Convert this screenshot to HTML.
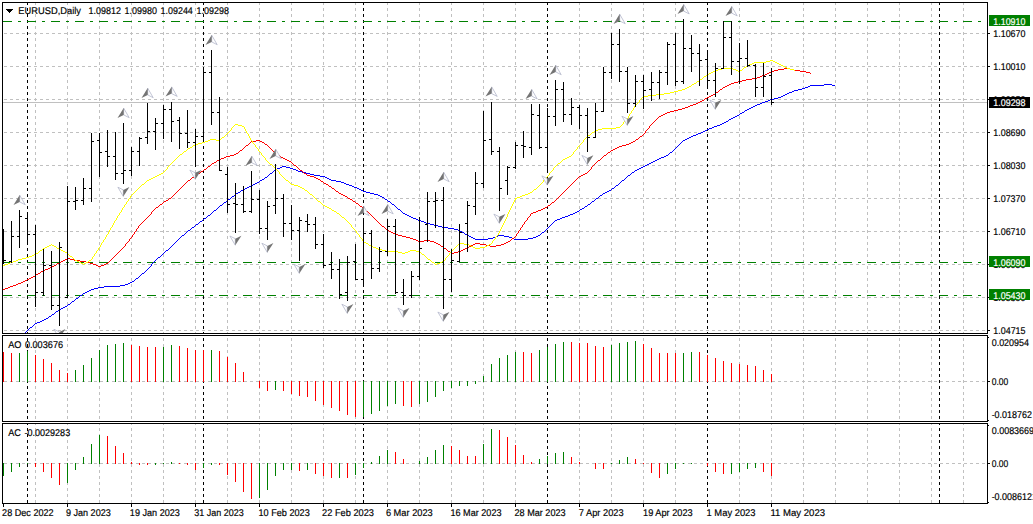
<!DOCTYPE html>
<html><head><meta charset="utf-8"><title>EURUSD,Daily</title>
<style>html,body{margin:0;padding:0;background:#fff;overflow:hidden}svg{display:block}</style></head>
<body>
<svg width="1033" height="524" viewBox="0 0 1033 524" style="display:block">
<defs>
<clipPath id="cm"><rect x="3" y="3" width="984" height="330"/></clipPath>
</defs>
<rect width="1033" height="524" fill="#fff"/>
<g shape-rendering="crispEdges" fill="none">
<line x1="35.5" y1="3" x2="35.5" y2="333" stroke="#c0c0c0" stroke-dasharray="3 3" stroke-dashoffset="1"/>
<line x1="67.5" y1="3" x2="67.5" y2="333" stroke="#c0c0c0" stroke-dasharray="3 3" stroke-dashoffset="1"/>
<line x1="99.5" y1="3" x2="99.5" y2="333" stroke="#c0c0c0" stroke-dasharray="3 3" stroke-dashoffset="1"/>
<line x1="131.5" y1="3" x2="131.5" y2="333" stroke="#c0c0c0" stroke-dasharray="3 3" stroke-dashoffset="1"/>
<line x1="163.5" y1="3" x2="163.5" y2="333" stroke="#c0c0c0" stroke-dasharray="3 3" stroke-dashoffset="1"/>
<line x1="195.5" y1="3" x2="195.5" y2="333" stroke="#c0c0c0" stroke-dasharray="3 3" stroke-dashoffset="1"/>
<line x1="227.5" y1="3" x2="227.5" y2="333" stroke="#c0c0c0" stroke-dasharray="3 3" stroke-dashoffset="1"/>
<line x1="259.5" y1="3" x2="259.5" y2="333" stroke="#c0c0c0" stroke-dasharray="3 3" stroke-dashoffset="1"/>
<line x1="291.5" y1="3" x2="291.5" y2="333" stroke="#c0c0c0" stroke-dasharray="3 3" stroke-dashoffset="1"/>
<line x1="323.5" y1="3" x2="323.5" y2="333" stroke="#c0c0c0" stroke-dasharray="3 3" stroke-dashoffset="1"/>
<line x1="355.5" y1="3" x2="355.5" y2="333" stroke="#c0c0c0" stroke-dasharray="3 3" stroke-dashoffset="1"/>
<line x1="387.5" y1="3" x2="387.5" y2="333" stroke="#c0c0c0" stroke-dasharray="3 3" stroke-dashoffset="1"/>
<line x1="419.5" y1="3" x2="419.5" y2="333" stroke="#c0c0c0" stroke-dasharray="3 3" stroke-dashoffset="1"/>
<line x1="451.5" y1="3" x2="451.5" y2="333" stroke="#c0c0c0" stroke-dasharray="3 3" stroke-dashoffset="1"/>
<line x1="483.5" y1="3" x2="483.5" y2="333" stroke="#c0c0c0" stroke-dasharray="3 3" stroke-dashoffset="1"/>
<line x1="515.5" y1="3" x2="515.5" y2="333" stroke="#c0c0c0" stroke-dasharray="3 3" stroke-dashoffset="1"/>
<line x1="547.5" y1="3" x2="547.5" y2="333" stroke="#c0c0c0" stroke-dasharray="3 3" stroke-dashoffset="1"/>
<line x1="579.5" y1="3" x2="579.5" y2="333" stroke="#c0c0c0" stroke-dasharray="3 3" stroke-dashoffset="1"/>
<line x1="611.5" y1="3" x2="611.5" y2="333" stroke="#c0c0c0" stroke-dasharray="3 3" stroke-dashoffset="1"/>
<line x1="643.5" y1="3" x2="643.5" y2="333" stroke="#c0c0c0" stroke-dasharray="3 3" stroke-dashoffset="1"/>
<line x1="675.5" y1="3" x2="675.5" y2="333" stroke="#c0c0c0" stroke-dasharray="3 3" stroke-dashoffset="1"/>
<line x1="707.5" y1="3" x2="707.5" y2="333" stroke="#c0c0c0" stroke-dasharray="3 3" stroke-dashoffset="1"/>
<line x1="739.5" y1="3" x2="739.5" y2="333" stroke="#c0c0c0" stroke-dasharray="3 3" stroke-dashoffset="1"/>
<line x1="771.5" y1="3" x2="771.5" y2="333" stroke="#c0c0c0" stroke-dasharray="3 3" stroke-dashoffset="1"/>
<line x1="803.5" y1="3" x2="803.5" y2="333" stroke="#c0c0c0" stroke-dasharray="3 3" stroke-dashoffset="1"/>
<line x1="835.5" y1="3" x2="835.5" y2="333" stroke="#c0c0c0" stroke-dasharray="3 3" stroke-dashoffset="1"/>
<line x1="867.5" y1="3" x2="867.5" y2="333" stroke="#c0c0c0" stroke-dasharray="3 3" stroke-dashoffset="1"/>
<line x1="899.5" y1="3" x2="899.5" y2="333" stroke="#c0c0c0" stroke-dasharray="3 3" stroke-dashoffset="1"/>
<line x1="931.5" y1="3" x2="931.5" y2="333" stroke="#c0c0c0" stroke-dasharray="3 3" stroke-dashoffset="1"/>
<line x1="963.5" y1="3" x2="963.5" y2="333" stroke="#c0c0c0" stroke-dasharray="3 3" stroke-dashoffset="1"/>
<line x1="35.5" y1="336" x2="35.5" y2="421" stroke="#c0c0c0" stroke-dasharray="3 3" stroke-dashoffset="4"/>
<line x1="67.5" y1="336" x2="67.5" y2="421" stroke="#c0c0c0" stroke-dasharray="3 3" stroke-dashoffset="4"/>
<line x1="99.5" y1="336" x2="99.5" y2="421" stroke="#c0c0c0" stroke-dasharray="3 3" stroke-dashoffset="4"/>
<line x1="131.5" y1="336" x2="131.5" y2="421" stroke="#c0c0c0" stroke-dasharray="3 3" stroke-dashoffset="4"/>
<line x1="163.5" y1="336" x2="163.5" y2="421" stroke="#c0c0c0" stroke-dasharray="3 3" stroke-dashoffset="4"/>
<line x1="195.5" y1="336" x2="195.5" y2="421" stroke="#c0c0c0" stroke-dasharray="3 3" stroke-dashoffset="4"/>
<line x1="227.5" y1="336" x2="227.5" y2="421" stroke="#c0c0c0" stroke-dasharray="3 3" stroke-dashoffset="4"/>
<line x1="259.5" y1="336" x2="259.5" y2="421" stroke="#c0c0c0" stroke-dasharray="3 3" stroke-dashoffset="4"/>
<line x1="291.5" y1="336" x2="291.5" y2="421" stroke="#c0c0c0" stroke-dasharray="3 3" stroke-dashoffset="4"/>
<line x1="323.5" y1="336" x2="323.5" y2="421" stroke="#c0c0c0" stroke-dasharray="3 3" stroke-dashoffset="4"/>
<line x1="355.5" y1="336" x2="355.5" y2="421" stroke="#c0c0c0" stroke-dasharray="3 3" stroke-dashoffset="4"/>
<line x1="387.5" y1="336" x2="387.5" y2="421" stroke="#c0c0c0" stroke-dasharray="3 3" stroke-dashoffset="4"/>
<line x1="419.5" y1="336" x2="419.5" y2="421" stroke="#c0c0c0" stroke-dasharray="3 3" stroke-dashoffset="4"/>
<line x1="451.5" y1="336" x2="451.5" y2="421" stroke="#c0c0c0" stroke-dasharray="3 3" stroke-dashoffset="4"/>
<line x1="483.5" y1="336" x2="483.5" y2="421" stroke="#c0c0c0" stroke-dasharray="3 3" stroke-dashoffset="4"/>
<line x1="515.5" y1="336" x2="515.5" y2="421" stroke="#c0c0c0" stroke-dasharray="3 3" stroke-dashoffset="4"/>
<line x1="547.5" y1="336" x2="547.5" y2="421" stroke="#c0c0c0" stroke-dasharray="3 3" stroke-dashoffset="4"/>
<line x1="579.5" y1="336" x2="579.5" y2="421" stroke="#c0c0c0" stroke-dasharray="3 3" stroke-dashoffset="4"/>
<line x1="611.5" y1="336" x2="611.5" y2="421" stroke="#c0c0c0" stroke-dasharray="3 3" stroke-dashoffset="4"/>
<line x1="643.5" y1="336" x2="643.5" y2="421" stroke="#c0c0c0" stroke-dasharray="3 3" stroke-dashoffset="4"/>
<line x1="675.5" y1="336" x2="675.5" y2="421" stroke="#c0c0c0" stroke-dasharray="3 3" stroke-dashoffset="4"/>
<line x1="707.5" y1="336" x2="707.5" y2="421" stroke="#c0c0c0" stroke-dasharray="3 3" stroke-dashoffset="4"/>
<line x1="739.5" y1="336" x2="739.5" y2="421" stroke="#c0c0c0" stroke-dasharray="3 3" stroke-dashoffset="4"/>
<line x1="771.5" y1="336" x2="771.5" y2="421" stroke="#c0c0c0" stroke-dasharray="3 3" stroke-dashoffset="4"/>
<line x1="803.5" y1="336" x2="803.5" y2="421" stroke="#c0c0c0" stroke-dasharray="3 3" stroke-dashoffset="4"/>
<line x1="835.5" y1="336" x2="835.5" y2="421" stroke="#c0c0c0" stroke-dasharray="3 3" stroke-dashoffset="4"/>
<line x1="867.5" y1="336" x2="867.5" y2="421" stroke="#c0c0c0" stroke-dasharray="3 3" stroke-dashoffset="4"/>
<line x1="899.5" y1="336" x2="899.5" y2="421" stroke="#c0c0c0" stroke-dasharray="3 3" stroke-dashoffset="4"/>
<line x1="931.5" y1="336" x2="931.5" y2="421" stroke="#c0c0c0" stroke-dasharray="3 3" stroke-dashoffset="4"/>
<line x1="963.5" y1="336" x2="963.5" y2="421" stroke="#c0c0c0" stroke-dasharray="3 3" stroke-dashoffset="4"/>
<line x1="35.5" y1="424" x2="35.5" y2="503" stroke="#c0c0c0" stroke-dasharray="3 3" stroke-dashoffset="2"/>
<line x1="67.5" y1="424" x2="67.5" y2="503" stroke="#c0c0c0" stroke-dasharray="3 3" stroke-dashoffset="2"/>
<line x1="99.5" y1="424" x2="99.5" y2="503" stroke="#c0c0c0" stroke-dasharray="3 3" stroke-dashoffset="2"/>
<line x1="131.5" y1="424" x2="131.5" y2="503" stroke="#c0c0c0" stroke-dasharray="3 3" stroke-dashoffset="2"/>
<line x1="163.5" y1="424" x2="163.5" y2="503" stroke="#c0c0c0" stroke-dasharray="3 3" stroke-dashoffset="2"/>
<line x1="195.5" y1="424" x2="195.5" y2="503" stroke="#c0c0c0" stroke-dasharray="3 3" stroke-dashoffset="2"/>
<line x1="227.5" y1="424" x2="227.5" y2="503" stroke="#c0c0c0" stroke-dasharray="3 3" stroke-dashoffset="2"/>
<line x1="259.5" y1="424" x2="259.5" y2="503" stroke="#c0c0c0" stroke-dasharray="3 3" stroke-dashoffset="2"/>
<line x1="291.5" y1="424" x2="291.5" y2="503" stroke="#c0c0c0" stroke-dasharray="3 3" stroke-dashoffset="2"/>
<line x1="323.5" y1="424" x2="323.5" y2="503" stroke="#c0c0c0" stroke-dasharray="3 3" stroke-dashoffset="2"/>
<line x1="355.5" y1="424" x2="355.5" y2="503" stroke="#c0c0c0" stroke-dasharray="3 3" stroke-dashoffset="2"/>
<line x1="387.5" y1="424" x2="387.5" y2="503" stroke="#c0c0c0" stroke-dasharray="3 3" stroke-dashoffset="2"/>
<line x1="419.5" y1="424" x2="419.5" y2="503" stroke="#c0c0c0" stroke-dasharray="3 3" stroke-dashoffset="2"/>
<line x1="451.5" y1="424" x2="451.5" y2="503" stroke="#c0c0c0" stroke-dasharray="3 3" stroke-dashoffset="2"/>
<line x1="483.5" y1="424" x2="483.5" y2="503" stroke="#c0c0c0" stroke-dasharray="3 3" stroke-dashoffset="2"/>
<line x1="515.5" y1="424" x2="515.5" y2="503" stroke="#c0c0c0" stroke-dasharray="3 3" stroke-dashoffset="2"/>
<line x1="547.5" y1="424" x2="547.5" y2="503" stroke="#c0c0c0" stroke-dasharray="3 3" stroke-dashoffset="2"/>
<line x1="579.5" y1="424" x2="579.5" y2="503" stroke="#c0c0c0" stroke-dasharray="3 3" stroke-dashoffset="2"/>
<line x1="611.5" y1="424" x2="611.5" y2="503" stroke="#c0c0c0" stroke-dasharray="3 3" stroke-dashoffset="2"/>
<line x1="643.5" y1="424" x2="643.5" y2="503" stroke="#c0c0c0" stroke-dasharray="3 3" stroke-dashoffset="2"/>
<line x1="675.5" y1="424" x2="675.5" y2="503" stroke="#c0c0c0" stroke-dasharray="3 3" stroke-dashoffset="2"/>
<line x1="707.5" y1="424" x2="707.5" y2="503" stroke="#c0c0c0" stroke-dasharray="3 3" stroke-dashoffset="2"/>
<line x1="739.5" y1="424" x2="739.5" y2="503" stroke="#c0c0c0" stroke-dasharray="3 3" stroke-dashoffset="2"/>
<line x1="771.5" y1="424" x2="771.5" y2="503" stroke="#c0c0c0" stroke-dasharray="3 3" stroke-dashoffset="2"/>
<line x1="803.5" y1="424" x2="803.5" y2="503" stroke="#c0c0c0" stroke-dasharray="3 3" stroke-dashoffset="2"/>
<line x1="835.5" y1="424" x2="835.5" y2="503" stroke="#c0c0c0" stroke-dasharray="3 3" stroke-dashoffset="2"/>
<line x1="867.5" y1="424" x2="867.5" y2="503" stroke="#c0c0c0" stroke-dasharray="3 3" stroke-dashoffset="2"/>
<line x1="899.5" y1="424" x2="899.5" y2="503" stroke="#c0c0c0" stroke-dasharray="3 3" stroke-dashoffset="2"/>
<line x1="931.5" y1="424" x2="931.5" y2="503" stroke="#c0c0c0" stroke-dasharray="3 3" stroke-dashoffset="2"/>
<line x1="963.5" y1="424" x2="963.5" y2="503" stroke="#c0c0c0" stroke-dasharray="3 3" stroke-dashoffset="2"/>
<line x1="3" y1="33.5" x2="987" y2="33.5" stroke="#c0c0c0" stroke-dasharray="3 3" stroke-dashoffset="5"/>
<line x1="3" y1="66.5" x2="987" y2="66.5" stroke="#c0c0c0" stroke-dasharray="3 3" stroke-dashoffset="5"/>
<line x1="3" y1="99.5" x2="987" y2="99.5" stroke="#c0c0c0" stroke-dasharray="3 3" stroke-dashoffset="5"/>
<line x1="3" y1="132.5" x2="987" y2="132.5" stroke="#c0c0c0" stroke-dasharray="3 3" stroke-dashoffset="5"/>
<line x1="3" y1="165.5" x2="987" y2="165.5" stroke="#c0c0c0" stroke-dasharray="3 3" stroke-dashoffset="5"/>
<line x1="3" y1="198.5" x2="987" y2="198.5" stroke="#c0c0c0" stroke-dasharray="3 3" stroke-dashoffset="5"/>
<line x1="3" y1="231.5" x2="987" y2="231.5" stroke="#c0c0c0" stroke-dasharray="3 3" stroke-dashoffset="5"/>
<line x1="3" y1="264.5" x2="987" y2="264.5" stroke="#c0c0c0" stroke-dasharray="3 3" stroke-dashoffset="5"/>
<line x1="3" y1="297.5" x2="987" y2="297.5" stroke="#c0c0c0" stroke-dasharray="3 3" stroke-dashoffset="5"/>
<line x1="3" y1="330.5" x2="987" y2="330.5" stroke="#c0c0c0" stroke-dasharray="3 3" stroke-dashoffset="5"/>
<line x1="3" y1="381.5" x2="987" y2="381.5" stroke="#c0c0c0" stroke-dasharray="3 3" stroke-dashoffset="5"/>
<line x1="3" y1="463.5" x2="987" y2="463.5" stroke="#c0c0c0" stroke-dasharray="3 3" stroke-dashoffset="5"/>
<line x1="3" y1="102.5" x2="987" y2="102.5" stroke="#c0c0c0"/>
<line x1="27.5" y1="3" x2="27.5" y2="333" stroke="#000" stroke-dasharray="3 3" stroke-dashoffset="1"/>
<line x1="27.5" y1="336" x2="27.5" y2="421" stroke="#000" stroke-dasharray="3 3" stroke-dashoffset="4"/>
<line x1="27.5" y1="424" x2="27.5" y2="503" stroke="#000" stroke-dasharray="3 3" stroke-dashoffset="2"/>
<line x1="203.5" y1="3" x2="203.5" y2="333" stroke="#000" stroke-dasharray="3 3" stroke-dashoffset="1"/>
<line x1="203.5" y1="336" x2="203.5" y2="421" stroke="#000" stroke-dasharray="3 3" stroke-dashoffset="4"/>
<line x1="203.5" y1="424" x2="203.5" y2="503" stroke="#000" stroke-dasharray="3 3" stroke-dashoffset="2"/>
<line x1="363.5" y1="3" x2="363.5" y2="333" stroke="#000" stroke-dasharray="3 3" stroke-dashoffset="1"/>
<line x1="363.5" y1="336" x2="363.5" y2="421" stroke="#000" stroke-dasharray="3 3" stroke-dashoffset="4"/>
<line x1="363.5" y1="424" x2="363.5" y2="503" stroke="#000" stroke-dasharray="3 3" stroke-dashoffset="2"/>
<line x1="547.5" y1="3" x2="547.5" y2="333" stroke="#000" stroke-dasharray="3 3" stroke-dashoffset="1"/>
<line x1="547.5" y1="336" x2="547.5" y2="421" stroke="#000" stroke-dasharray="3 3" stroke-dashoffset="4"/>
<line x1="547.5" y1="424" x2="547.5" y2="503" stroke="#000" stroke-dasharray="3 3" stroke-dashoffset="2"/>
<line x1="707.5" y1="3" x2="707.5" y2="333" stroke="#000" stroke-dasharray="3 3" stroke-dashoffset="1"/>
<line x1="707.5" y1="336" x2="707.5" y2="421" stroke="#000" stroke-dasharray="3 3" stroke-dashoffset="4"/>
<line x1="707.5" y1="424" x2="707.5" y2="503" stroke="#000" stroke-dasharray="3 3" stroke-dashoffset="2"/>
<line x1="939.5" y1="3" x2="939.5" y2="333" stroke="#000" stroke-dasharray="3 3" stroke-dashoffset="1"/>
<line x1="939.5" y1="336" x2="939.5" y2="421" stroke="#000" stroke-dasharray="3 3" stroke-dashoffset="4"/>
<line x1="939.5" y1="424" x2="939.5" y2="503" stroke="#000" stroke-dasharray="3 3" stroke-dashoffset="2"/>
</g>
<g shape-rendering="crispEdges" fill="none">
<line x1="3" y1="21.5" x2="987" y2="21.5" stroke="#008000" stroke-dasharray="9 6 3 6" stroke-dashoffset="0"/>
<line x1="3" y1="262.5" x2="987" y2="262.5" stroke="#008000" stroke-dasharray="9 6 3 6" stroke-dashoffset="0"/>
<line x1="3" y1="295.5" x2="987" y2="295.5" stroke="#008000" stroke-dasharray="9 6 3 6" stroke-dashoffset="0"/>
</g>
<path d="M25.5 332v1M26.5 331v1M27.5 330v1M28.5 329v1M29.5 328v1M30.5 327v1M31.5 327v1M32.5 326v1M33.5 325v1M34.5 324v1M35.5 323v1M36.5 323v1M37.5 322v1M38.5 322v1M39.5 322v1M40.5 321v1M41.5 321v1M42.5 320v1M43.5 320v1M44.5 319v1M45.5 319v1M46.5 318v1M47.5 318v1M48.5 317v1M49.5 316v1M50.5 316v1M51.5 315v1M52.5 314v1M53.5 314v1M54.5 313v1M55.5 312v1M56.5 311v1M57.5 311v1M58.5 310v1M59.5 309v1M60.5 309v1M61.5 308v1M62.5 308v1M63.5 307v1M64.5 307v1M65.5 306v1M66.5 306v1M67.5 305v1M68.5 304v1M69.5 304v1M70.5 303v1M71.5 302v1M72.5 301v1M73.5 301v1M74.5 300v1M75.5 299v1M76.5 298v1M77.5 298v1M78.5 297v1M79.5 296v1M80.5 295v1M81.5 295v1M82.5 294v1M83.5 293v1M84.5 293v1M85.5 292v1M86.5 292v1M87.5 291v1M88.5 291v1M89.5 290v1M90.5 290v1M91.5 289v1M92.5 289v1M93.5 289v1M94.5 288v1M95.5 288v1M96.5 288v1M97.5 288v1M98.5 287v1M99.5 287v1M100.5 287v1M101.5 287v1M102.5 287v1M103.5 287v1M104.5 286v1M105.5 286v1M106.5 286v1M107.5 286v1M108.5 286v1M109.5 286v1M110.5 286v1M111.5 286v1M112.5 286v1M113.5 286v1M114.5 286v1M115.5 286v1M116.5 286v1M117.5 286v1M118.5 286v1M119.5 286v1M120.5 285v1M121.5 285v1M122.5 285v1M123.5 285v1M124.5 285v1M125.5 284v1M126.5 284v1M127.5 284v1M128.5 283v1M129.5 283v1M130.5 282v1M131.5 282v1M132.5 281v1M133.5 281v1M134.5 280v1M135.5 279v1M136.5 278v1M137.5 278v1M138.5 277v1M139.5 276v1M140.5 275v1M141.5 274v1M142.5 273v1M143.5 273v1M144.5 272v1M145.5 271v1M146.5 270v1M147.5 269v1M148.5 268v1M149.5 267v1M150.5 266v1M151.5 264v2M152.5 263v1M153.5 262v1M154.5 261v1M155.5 260v1M156.5 259v1M157.5 258v1M158.5 257v1M159.5 257v1M160.5 256v1M161.5 255v1M162.5 254v1M163.5 253v1M164.5 252v1M165.5 251v1M166.5 250v1M167.5 250v1M168.5 249v1M169.5 248v1M170.5 247v1M171.5 246v1M172.5 245v1M173.5 244v1M174.5 243v1M175.5 242v1M176.5 241v1M177.5 240v1M178.5 239v1M179.5 238v1M180.5 237v1M181.5 236v1M182.5 235v1M183.5 235v1M184.5 234v1M185.5 233v1M186.5 232v1M187.5 231v1M188.5 230v1M189.5 230v1M190.5 229v1M191.5 228v1M192.5 227v1M193.5 227v1M194.5 226v1M195.5 225v1M196.5 224v1M197.5 224v1M198.5 223v1M199.5 222v1M200.5 221v1M201.5 221v1M202.5 220v1M203.5 219v1M204.5 218v1M205.5 218v1M206.5 217v1M207.5 216v1M208.5 215v1M209.5 215v1M210.5 214v1M211.5 213v1M212.5 212v1M213.5 211v1M214.5 210v1M215.5 210v1M216.5 209v1M217.5 208v1M218.5 207v1M219.5 206v1M220.5 205v1M221.5 205v1M222.5 204v1M223.5 203v1M224.5 202v1M225.5 202v1M226.5 201v1M227.5 200v1M228.5 199v1M229.5 199v1M230.5 198v1M231.5 197v1M232.5 196v1M233.5 196v1M234.5 195v1M235.5 194v1M236.5 193v1M237.5 193v1M238.5 192v1M239.5 192v1M240.5 191v1M241.5 190v1M242.5 190v1M243.5 189v1M244.5 189v1M245.5 188v1M246.5 188v1M247.5 187v1M248.5 187v1M249.5 186v1M250.5 186v1M251.5 185v1M252.5 185v1M253.5 184v1M254.5 184v1M255.5 183v1M256.5 183v1M257.5 182v1M258.5 182v1M259.5 181v1M260.5 180v1M261.5 180v1M262.5 179v1M263.5 179v1M264.5 178v1M265.5 177v1M266.5 177v1M267.5 176v1M268.5 175v1M269.5 174v1M270.5 173v1M271.5 173v1M272.5 172v1M273.5 171v1M274.5 170v1M275.5 169v1M276.5 169v1M277.5 168v1M278.5 168v1M279.5 168v1M280.5 167v1M281.5 167v1M282.5 166v1M283.5 166v1M284.5 166v1M285.5 166v1M286.5 167v1M287.5 167v1M288.5 167v1M289.5 167v1M290.5 168v1M291.5 168v1M292.5 168v1M293.5 169v1M294.5 169v1M295.5 169v1M296.5 170v1M297.5 170v1M298.5 171v1M299.5 171v1M300.5 171v1M301.5 171v1M302.5 172v1M303.5 172v1M304.5 172v1M305.5 172v1M306.5 173v1M307.5 173v1M308.5 173v1M309.5 173v1M310.5 174v1M311.5 174v1M312.5 174v1M313.5 174v1M314.5 175v1M315.5 175v1M316.5 175v1M317.5 175v1M318.5 175v1M319.5 175v1M320.5 176v1M321.5 176v1M322.5 176v1M323.5 176v1M324.5 176v1M325.5 177v1M326.5 177v1M327.5 178v1M328.5 178v1M329.5 179v1M330.5 179v1M331.5 180v1M332.5 180v1M333.5 180v1M334.5 180v1M335.5 180v1M336.5 181v1M337.5 181v1M338.5 181v1M339.5 181v1M340.5 181v1M341.5 182v1M342.5 182v1M343.5 182v1M344.5 183v1M345.5 183v1M346.5 184v1M347.5 184v1M348.5 184v1M349.5 185v1M350.5 185v1M351.5 185v1M352.5 186v1M353.5 186v1M354.5 187v1M355.5 187v1M356.5 187v1M357.5 188v1M358.5 188v1M359.5 189v1M360.5 189v1M361.5 190v1M362.5 190v1M363.5 191v1M364.5 191v1M365.5 191v1M366.5 192v1M367.5 192v1M368.5 192v1M369.5 192v1M370.5 193v1M371.5 193v1M372.5 193v1M373.5 193v1M374.5 194v1M375.5 194v1M376.5 194v1M377.5 194v1M378.5 195v1M379.5 195v1M380.5 196v1M381.5 196v1M382.5 197v1M383.5 197v1M384.5 198v1M385.5 199v1M386.5 199v1M387.5 200v1M388.5 201v1M389.5 201v1M390.5 202v1M391.5 203v1M392.5 204v1M393.5 204v1M394.5 205v1M395.5 206v1M396.5 207v1M397.5 208v1M398.5 209v1M399.5 209v1M400.5 210v1M401.5 211v1M402.5 212v1M403.5 213v1M404.5 213v1M405.5 214v1M406.5 214v1M407.5 215v1M408.5 215v1M409.5 216v1M410.5 216v1M411.5 217v1M412.5 217v1M413.5 218v1M414.5 218v1M415.5 218v1M416.5 219v1M417.5 219v1M418.5 220v1M419.5 220v1M420.5 220v1M421.5 221v1M422.5 221v1M423.5 221v1M424.5 222v1M425.5 222v1M426.5 223v1M427.5 223v1M428.5 223v1M429.5 223v1M430.5 224v1M431.5 224v1M432.5 224v1M433.5 224v1M434.5 225v1M435.5 225v1M436.5 225v1M437.5 225v1M438.5 226v1M439.5 226v1M440.5 226v1M441.5 226v1M442.5 227v1M443.5 227v1M444.5 227v1M445.5 227v1M446.5 227v1M447.5 227v1M448.5 228v1M449.5 228v1M450.5 228v1M451.5 228v1M452.5 228v1M453.5 228v1M454.5 229v1M455.5 229v1M456.5 229v1M457.5 229v1M458.5 230v1M459.5 230v1M460.5 231v1M461.5 231v1M462.5 232v1M463.5 232v1M464.5 233v1M465.5 234v1M466.5 234v1M467.5 235v1M468.5 235v1M469.5 236v1M470.5 236v1M471.5 237v1M472.5 237v1M473.5 238v1M474.5 238v1M475.5 239v1M476.5 239v1M477.5 239v1M478.5 239v1M479.5 239v1M480.5 239v1M481.5 239v1M482.5 239v1M483.5 239v1M484.5 239v1M485.5 239v1M486.5 239v1M487.5 239v1M488.5 238v1M489.5 238v1M490.5 238v1M491.5 238v1M492.5 238v1M493.5 237v1M494.5 237v1M495.5 237v1M496.5 236v1M497.5 236v1M498.5 235v1M499.5 235v1M500.5 235v1M501.5 235v1M502.5 235v1M503.5 235v1M504.5 236v1M505.5 236v1M506.5 236v1M507.5 236v1M508.5 236v1M509.5 237v1M510.5 237v1M511.5 237v1M512.5 238v1M513.5 238v1M514.5 239v1M515.5 239v1M516.5 239v1M517.5 239v1M518.5 239v1M519.5 239v1M520.5 239v1M521.5 239v1M522.5 239v1M523.5 239v1M524.5 239v1M525.5 239v1M526.5 239v1M527.5 239v1M528.5 238v1M529.5 238v1M530.5 238v1M531.5 238v1M532.5 238v1M533.5 237v1M534.5 237v1M535.5 237v1M536.5 236v1M537.5 236v1M538.5 235v1M539.5 235v1M540.5 234v1M541.5 233v1M542.5 232v1M543.5 232v1M544.5 231v1M545.5 230v1M546.5 229v1M547.5 228v1M548.5 227v1M549.5 226v1M550.5 225v1M551.5 224v1M552.5 223v1M553.5 222v1M554.5 221v1M555.5 220v1M556.5 220v1M557.5 219v1M558.5 219v1M559.5 219v1M560.5 218v1M561.5 218v1M562.5 217v1M563.5 217v1M564.5 217v1M565.5 216v1M566.5 216v1M567.5 216v1M568.5 215v1M569.5 215v1M570.5 214v1M571.5 214v1M572.5 214v1M573.5 213v1M574.5 213v1M575.5 212v1M576.5 212v1M577.5 211v1M578.5 211v1M579.5 210v1M580.5 209v1M581.5 209v1M582.5 208v1M583.5 208v1M584.5 207v1M585.5 206v1M586.5 206v1M587.5 205v1M588.5 204v1M589.5 204v1M590.5 203v1M591.5 202v1M592.5 201v1M593.5 201v1M594.5 200v1M595.5 199v1M596.5 198v1M597.5 198v1M598.5 197v1M599.5 196v1M600.5 195v1M601.5 195v1M602.5 194v1M603.5 193v1M604.5 193v1M605.5 192v1M606.5 192v1M607.5 191v1M608.5 191v1M609.5 190v1M610.5 190v1M611.5 189v1M612.5 188v1M613.5 188v1M614.5 187v1M615.5 186v1M616.5 185v1M617.5 185v1M618.5 184v1M619.5 183v1M620.5 182v1M621.5 181v1M622.5 180v1M623.5 180v1M624.5 179v1M625.5 178v1M626.5 177v1M627.5 176v1M628.5 175v1M629.5 175v1M630.5 174v1M631.5 173v1M632.5 172v1M633.5 172v1M634.5 171v1M635.5 170v1M636.5 170v1M637.5 169v1M638.5 169v1M639.5 168v1M640.5 168v1M641.5 167v1M642.5 167v1M643.5 166v1M644.5 166v1M645.5 165v1M646.5 165v1M647.5 164v1M648.5 164v1M649.5 163v1M650.5 163v1M651.5 162v1M652.5 162v1M653.5 161v1M654.5 161v1M655.5 160v1M656.5 160v1M657.5 159v1M658.5 159v1M659.5 158v1M660.5 158v1M661.5 157v1M662.5 157v1M663.5 157v1M664.5 156v1M665.5 156v1M666.5 155v1M667.5 155v1M668.5 154v1M669.5 153v1M670.5 152v1M671.5 152v1M672.5 151v1M673.5 150v1M674.5 149v1M675.5 148v1M676.5 147v1M677.5 146v1M678.5 145v1M679.5 144v1M680.5 143v1M681.5 142v1M682.5 141v1M683.5 140v1M684.5 140v1M685.5 139v1M686.5 139v1M687.5 138v1M688.5 138v1M689.5 137v1M690.5 137v1M691.5 136v1M692.5 136v1M693.5 135v1M694.5 135v1M695.5 135v1M696.5 134v1M697.5 134v1M698.5 133v1M699.5 133v1M700.5 133v1M701.5 132v1M702.5 132v1M703.5 131v1M704.5 131v1M705.5 130v1M706.5 130v1M707.5 129v1M708.5 129v1M709.5 128v1M710.5 128v1M711.5 128v1M712.5 127v1M713.5 127v1M714.5 126v1M715.5 126v1M716.5 126v1M717.5 125v1M718.5 125v1M719.5 125v1M720.5 124v1M721.5 124v1M722.5 123v1M723.5 123v1M724.5 122v1M725.5 122v1M726.5 121v1M727.5 121v1M728.5 120v1M729.5 119v1M730.5 119v1M731.5 118v1M732.5 118v1M733.5 117v1M734.5 117v1M735.5 116v1M736.5 116v1M737.5 115v1M738.5 115v1M739.5 114v1M740.5 113v1M741.5 113v1M742.5 112v1M743.5 112v1M744.5 111v1M745.5 110v1M746.5 110v1M747.5 109v1M748.5 109v1M749.5 108v1M750.5 108v1M751.5 107v1M752.5 107v1M753.5 106v1M754.5 106v1M755.5 105v1M756.5 105v1M757.5 104v1M758.5 104v1M759.5 104v1M760.5 103v1M761.5 103v1M762.5 102v1M763.5 102v1M764.5 102v1M765.5 101v1M766.5 101v1M767.5 101v1M768.5 100v1M769.5 100v1M770.5 99v1M771.5 99v1M772.5 99v1M773.5 99v1M774.5 98v1M775.5 98v1M776.5 98v1M777.5 98v1M778.5 97v1M779.5 97v1M780.5 97v1M781.5 96v1M782.5 96v1M783.5 95v1M784.5 95v1M785.5 94v1M786.5 94v1M787.5 93v1M788.5 93v1M789.5 92v1M790.5 92v1M791.5 92v1M792.5 91v1M793.5 91v1M794.5 90v1M795.5 90v1M796.5 90v1M797.5 90v1M798.5 89v1M799.5 89v1M800.5 89v1M801.5 89v1M802.5 88v1M803.5 88v1M804.5 88v1M805.5 87v1M806.5 87v1M807.5 87v1M808.5 86v1M809.5 86v1M810.5 85v1M811.5 85v1M812.5 85v1M813.5 85v1M814.5 85v1M815.5 85v1M816.5 85v1M817.5 85v1M818.5 85v1M819.5 85v1M820.5 85v1M821.5 85v1M822.5 85v1M823.5 85v1M824.5 84v1M825.5 84v1M826.5 84v1M827.5 84v1M828.5 84v1M829.5 84v1M830.5 84v1M831.5 84v1M832.5 85v1M833.5 85v1M834.5 85v1" fill="none" stroke="#0000ff" stroke-width="1" shape-rendering="crispEdges"/>
<path d="M3.5 289v1M4.5 289v1M5.5 288v1M6.5 288v1M7.5 288v1M8.5 287v1M9.5 287v1M10.5 286v1M11.5 286v1M12.5 286v1M13.5 285v1M14.5 285v1M15.5 285v1M16.5 284v1M17.5 284v1M18.5 283v1M19.5 283v1M20.5 283v1M21.5 282v1M22.5 282v1M23.5 281v1M24.5 281v1M25.5 280v1M26.5 280v1M27.5 279v1M28.5 279v1M29.5 278v1M30.5 278v1M31.5 277v1M32.5 277v1M33.5 276v1M34.5 276v1M35.5 275v1M36.5 274v1M37.5 274v1M38.5 273v1M39.5 273v1M40.5 272v1M41.5 271v1M42.5 271v1M43.5 270v1M44.5 270v1M45.5 269v1M46.5 269v1M47.5 269v1M48.5 268v1M49.5 268v1M50.5 267v1M51.5 267v1M52.5 266v1M53.5 266v1M54.5 265v1M55.5 265v1M56.5 264v1M57.5 263v1M58.5 263v1M59.5 262v1M60.5 262v1M61.5 261v1M62.5 261v1M63.5 260v1M64.5 260v1M65.5 259v1M66.5 259v1M67.5 258v1M68.5 258v1M69.5 258v1M70.5 259v1M71.5 259v1M72.5 259v1M73.5 259v1M74.5 260v1M75.5 260v1M76.5 260v1M77.5 260v1M78.5 260v1M79.5 260v1M80.5 261v1M81.5 261v1M82.5 261v1M83.5 261v1M84.5 261v1M85.5 261v1M86.5 262v1M87.5 262v1M88.5 262v1M89.5 262v1M90.5 263v1M91.5 263v1M92.5 263v1M93.5 264v1M94.5 264v1M95.5 264v1M96.5 265v1M97.5 265v1M98.5 266v1M99.5 266v1M100.5 266v1M101.5 265v1M102.5 265v1M103.5 265v1M104.5 264v1M105.5 264v1M106.5 263v1M107.5 263v1M108.5 262v1M109.5 261v1M110.5 260v1M111.5 259v1M112.5 258v1M113.5 257v1M114.5 256v1M115.5 255v1M116.5 254v1M117.5 253v1M118.5 252v1M119.5 251v1M120.5 250v1M121.5 249v1M122.5 248v1M123.5 247v1M124.5 246v1M125.5 244v2M126.5 243v1M127.5 242v1M128.5 241v1M129.5 239v2M130.5 238v1M131.5 237v1M132.5 235v2M133.5 234v1M134.5 232v2M135.5 231v1M136.5 229v2M137.5 228v1M138.5 226v2M139.5 225v1M140.5 224v1M141.5 223v1M142.5 222v1M143.5 221v1M144.5 220v1M145.5 219v1M146.5 218v1M147.5 217v1M148.5 216v1M149.5 215v1M150.5 214v1M151.5 212v2M152.5 211v1M153.5 210v1M154.5 209v1M155.5 208v1M156.5 207v1M157.5 207v1M158.5 206v1M159.5 205v1M160.5 204v1M161.5 204v1M162.5 203v1M163.5 202v1M164.5 201v1M165.5 201v1M166.5 200v1M167.5 200v1M168.5 199v1M169.5 198v1M170.5 198v1M171.5 197v1M172.5 196v1M173.5 195v1M174.5 194v1M175.5 193v1M176.5 192v1M177.5 191v1M178.5 190v1M179.5 189v1M180.5 188v1M181.5 187v1M182.5 186v1M183.5 185v1M184.5 184v1M185.5 183v1M186.5 182v1M187.5 181v1M188.5 180v1M189.5 180v1M190.5 179v1M191.5 178v1M192.5 177v1M193.5 177v1M194.5 176v1M195.5 175v1M196.5 174v1M197.5 174v1M198.5 173v1M199.5 173v1M200.5 172v1M201.5 171v1M202.5 171v1M203.5 170v1M204.5 169v1M205.5 169v1M206.5 168v1M207.5 167v1M208.5 166v1M209.5 166v1M210.5 165v1M211.5 164v1M212.5 163v1M213.5 163v1M214.5 162v1M215.5 162v1M216.5 161v1M217.5 160v1M218.5 160v1M219.5 159v1M220.5 159v1M221.5 158v1M222.5 158v1M223.5 158v1M224.5 157v1M225.5 157v1M226.5 156v1M227.5 156v1M228.5 156v1M229.5 156v1M230.5 155v1M231.5 155v1M232.5 155v1M233.5 155v1M234.5 154v1M235.5 154v1M236.5 153v1M237.5 153v1M238.5 152v1M239.5 151v1M240.5 150v1M241.5 150v1M242.5 149v1M243.5 148v1M244.5 147v1M245.5 146v1M246.5 145v1M247.5 145v1M248.5 144v1M249.5 143v1M250.5 142v1M251.5 141v1M252.5 141v1M253.5 141v1M254.5 141v1M255.5 141v1M256.5 140v1M257.5 140v1M258.5 140v1M259.5 140v1M260.5 141v1M261.5 141v1M262.5 142v1M263.5 142v1M264.5 143v1M265.5 144v1M266.5 144v1M267.5 145v1M268.5 146v1M269.5 147v1M270.5 148v1M271.5 149v1M272.5 150v1M273.5 151v1M274.5 152v1M275.5 153v1M276.5 154v1M277.5 154v1M278.5 155v1M279.5 155v1M280.5 156v1M281.5 157v1M282.5 157v1M283.5 158v1M284.5 158v1M285.5 159v1M286.5 159v1M287.5 160v1M288.5 160v1M289.5 161v1M290.5 161v1M291.5 162v1M292.5 163v1M293.5 164v1M294.5 165v1M295.5 165v1M296.5 166v1M297.5 167v1M298.5 168v1M299.5 169v1M300.5 170v1M301.5 170v1M302.5 171v1M303.5 172v1M304.5 173v1M305.5 173v1M306.5 174v1M307.5 175v1M308.5 175v1M309.5 175v1M310.5 176v1M311.5 176v1M312.5 176v1M313.5 176v1M314.5 177v1M315.5 177v1M316.5 178v1M317.5 178v1M318.5 179v1M319.5 179v1M320.5 180v1M321.5 181v1M322.5 181v1M323.5 182v1M324.5 183v1M325.5 183v1M326.5 184v1M327.5 184v1M328.5 185v1M329.5 186v1M330.5 186v1M331.5 187v1M332.5 188v1M333.5 188v1M334.5 189v1M335.5 190v1M336.5 191v1M337.5 191v1M338.5 192v1M339.5 193v1M340.5 193v1M341.5 194v1M342.5 194v1M343.5 195v1M344.5 195v1M345.5 196v1M346.5 196v1M347.5 197v1M348.5 198v1M349.5 198v1M350.5 199v1M351.5 199v1M352.5 200v1M353.5 201v1M354.5 201v1M355.5 202v1M356.5 203v1M357.5 203v1M358.5 204v1M359.5 205v1M360.5 206v1M361.5 206v1M362.5 207v1M363.5 208v1M364.5 209v1M365.5 210v1M366.5 211v1M367.5 211v1M368.5 212v1M369.5 213v1M370.5 214v1M371.5 215v1M372.5 216v1M373.5 217v1M374.5 218v1M375.5 219v1M376.5 220v1M377.5 221v1M378.5 222v1M379.5 223v1M380.5 224v1M381.5 225v1M382.5 226v1M383.5 226v1M384.5 227v1M385.5 228v1M386.5 229v1M387.5 230v1M388.5 230v1M389.5 231v1M390.5 231v1M391.5 232v1M392.5 232v1M393.5 233v1M394.5 233v1M395.5 234v1M396.5 234v1M397.5 234v1M398.5 235v1M399.5 235v1M400.5 235v1M401.5 235v1M402.5 236v1M403.5 236v1M404.5 236v1M405.5 236v1M406.5 237v1M407.5 237v1M408.5 237v1M409.5 237v1M410.5 238v1M411.5 238v1M412.5 238v1M413.5 239v1M414.5 239v1M415.5 239v1M416.5 240v1M417.5 240v1M418.5 241v1M419.5 241v1M420.5 241v1M421.5 241v1M422.5 241v1M423.5 241v1M424.5 240v1M425.5 240v1M426.5 240v1M427.5 240v1M428.5 240v1M429.5 240v1M430.5 241v1M431.5 241v1M432.5 241v1M433.5 241v1M434.5 242v1M435.5 242v1M436.5 243v1M437.5 243v1M438.5 244v1M439.5 244v1M440.5 245v1M441.5 246v1M442.5 246v1M443.5 247v1M444.5 248v1M445.5 248v1M446.5 249v1M447.5 250v1M448.5 251v1M449.5 251v1M450.5 252v1M451.5 253v1M452.5 253v1M453.5 253v1M454.5 252v1M455.5 252v1M456.5 252v1M457.5 252v1M458.5 251v1M459.5 251v1M460.5 251v1M461.5 250v1M462.5 250v1M463.5 249v1M464.5 249v1M465.5 248v1M466.5 248v1M467.5 247v1M468.5 247v1M469.5 246v1M470.5 246v1M471.5 245v1M472.5 245v1M473.5 244v1M474.5 244v1M475.5 243v1M476.5 243v1M477.5 243v1M478.5 243v1M479.5 243v1M480.5 244v1M481.5 244v1M482.5 244v1M483.5 244v1M484.5 244v1M485.5 244v1M486.5 245v1M487.5 245v1M488.5 245v1M489.5 245v1M490.5 246v1M491.5 246v1M492.5 246v1M493.5 246v1M494.5 246v1M495.5 246v1M496.5 245v1M497.5 245v1M498.5 245v1M499.5 245v1M500.5 245v1M501.5 244v1M502.5 244v1M503.5 244v1M504.5 243v1M505.5 243v1M506.5 242v1M507.5 242v1M508.5 241v1M509.5 241v1M510.5 240v1M511.5 239v1M512.5 238v1M513.5 238v1M514.5 237v1M515.5 236v1M516.5 234v2M517.5 233v1M518.5 231v2M519.5 230v1M520.5 228v2M521.5 227v1M522.5 225v2M523.5 224v1M524.5 222v2M525.5 221v1M526.5 220v1M527.5 218v2M528.5 217v1M529.5 216v1M530.5 214v2M531.5 213v1M532.5 213v1M533.5 212v1M534.5 212v1M535.5 212v1M536.5 211v1M537.5 211v1M538.5 210v1M539.5 210v1M540.5 210v1M541.5 209v1M542.5 209v1M543.5 208v1M544.5 208v1M545.5 207v1M546.5 207v1M547.5 206v1M548.5 205v1M549.5 205v1M550.5 204v1M551.5 203v1M552.5 202v1M553.5 202v1M554.5 201v1M555.5 200v1M556.5 199v1M557.5 198v1M558.5 197v1M559.5 196v1M560.5 195v1M561.5 194v1M562.5 193v1M563.5 192v1M564.5 191v1M565.5 190v1M566.5 189v1M567.5 188v1M568.5 187v1M569.5 186v1M570.5 185v1M571.5 184v1M572.5 183v1M573.5 182v1M574.5 181v1M575.5 180v1M576.5 179v1M577.5 178v1M578.5 177v1M579.5 176v1M580.5 176v1M581.5 175v1M582.5 175v1M583.5 174v1M584.5 174v1M585.5 173v1M586.5 173v1M587.5 172v1M588.5 171v1M589.5 170v1M590.5 169v1M591.5 167v2M592.5 166v1M593.5 165v1M594.5 164v1M595.5 163v1M596.5 162v1M597.5 161v1M598.5 160v1M599.5 160v1M600.5 159v1M601.5 158v1M602.5 157v1M603.5 156v1M604.5 155v1M605.5 155v1M606.5 154v1M607.5 153v1M608.5 152v1M609.5 152v1M610.5 151v1M611.5 150v1M612.5 150v1M613.5 149v1M614.5 149v1M615.5 148v1M616.5 148v1M617.5 147v1M618.5 147v1M619.5 146v1M620.5 146v1M621.5 146v1M622.5 145v1M623.5 145v1M624.5 145v1M625.5 145v1M626.5 144v1M627.5 144v1M628.5 144v1M629.5 143v1M630.5 143v1M631.5 142v1M632.5 142v1M633.5 141v1M634.5 141v1M635.5 140v1M636.5 139v1M637.5 139v1M638.5 138v1M639.5 137v1M640.5 136v1M641.5 136v1M642.5 135v1M643.5 134v1M644.5 133v1M645.5 131v2M646.5 130v1M647.5 129v1M648.5 128v1M649.5 126v2M650.5 125v1M651.5 124v1M652.5 123v1M653.5 122v1M654.5 121v1M655.5 120v1M656.5 119v1M657.5 118v1M658.5 117v1M659.5 116v1M660.5 116v1M661.5 115v1M662.5 115v1M663.5 114v1M664.5 114v1M665.5 113v1M666.5 113v1M667.5 112v1M668.5 112v1M669.5 112v1M670.5 111v1M671.5 111v1M672.5 111v1M673.5 111v1M674.5 110v1M675.5 110v1M676.5 110v1M677.5 110v1M678.5 109v1M679.5 109v1M680.5 109v1M681.5 109v1M682.5 108v1M683.5 108v1M684.5 108v1M685.5 107v1M686.5 107v1M687.5 107v1M688.5 106v1M689.5 106v1M690.5 105v1M691.5 105v1M692.5 105v1M693.5 104v1M694.5 104v1M695.5 104v1M696.5 103v1M697.5 103v1M698.5 102v1M699.5 102v1M700.5 101v1M701.5 101v1M702.5 100v1M703.5 100v1M704.5 99v1M705.5 98v1M706.5 98v1M707.5 97v1M708.5 97v1M709.5 96v1M710.5 96v1M711.5 95v1M712.5 95v1M713.5 94v1M714.5 94v1M715.5 93v1M716.5 92v1M717.5 92v1M718.5 91v1M719.5 90v1M720.5 89v1M721.5 89v1M722.5 88v1M723.5 87v1M724.5 87v1M725.5 86v1M726.5 86v1M727.5 85v1M728.5 85v1M729.5 84v1M730.5 84v1M731.5 83v1M732.5 83v1M733.5 83v1M734.5 82v1M735.5 82v1M736.5 82v1M737.5 82v1M738.5 81v1M739.5 81v1M740.5 81v1M741.5 81v1M742.5 80v1M743.5 80v1M744.5 80v1M745.5 80v1M746.5 79v1M747.5 79v1M748.5 79v1M749.5 79v1M750.5 79v1M751.5 79v1M752.5 78v1M753.5 78v1M754.5 78v1M755.5 78v1M756.5 78v1M757.5 77v1M758.5 77v1M759.5 77v1M760.5 76v1M761.5 76v1M762.5 75v1M763.5 75v1M764.5 75v1M765.5 74v1M766.5 74v1M767.5 73v1M768.5 73v1M769.5 72v1M770.5 72v1M771.5 71v1M772.5 71v1M773.5 71v1M774.5 70v1M775.5 70v1M776.5 70v1M777.5 70v1M778.5 69v1M779.5 69v1M780.5 69v1M781.5 69v1M782.5 69v1M783.5 69v1M784.5 68v1M785.5 68v1M786.5 68v1M787.5 68v1M788.5 68v1M789.5 68v1M790.5 69v1M791.5 69v1M792.5 69v1M793.5 69v1M794.5 70v1M795.5 70v1M796.5 70v1M797.5 70v1M798.5 70v1M799.5 70v1M800.5 71v1M801.5 71v1M802.5 71v1M803.5 71v1M804.5 71v1M805.5 71v1M806.5 72v1M807.5 72v1M808.5 72v1M809.5 72v1M810.5 73v1" fill="none" stroke="#ff0000" stroke-width="1" shape-rendering="crispEdges"/>
<path d="M3.5 265v1M4.5 265v1M5.5 264v1M6.5 264v1M7.5 264v1M8.5 263v1M9.5 263v1M10.5 262v1M11.5 262v1M12.5 262v1M13.5 261v1M14.5 261v1M15.5 261v1M16.5 260v1M17.5 260v1M18.5 259v1M19.5 259v1M20.5 259v1M21.5 259v1M22.5 258v1M23.5 258v1M24.5 258v1M25.5 258v1M26.5 257v1M27.5 257v1M28.5 257v1M29.5 256v1M30.5 256v1M31.5 256v1M32.5 255v1M33.5 255v1M34.5 254v1M35.5 254v1M36.5 253v1M37.5 253v1M38.5 252v1M39.5 251v1M40.5 250v1M41.5 250v1M42.5 249v1M43.5 248v1M44.5 248v1M45.5 247v1M46.5 247v1M47.5 246v1M48.5 246v1M49.5 245v1M50.5 245v1M51.5 244v1M52.5 245v1M53.5 245v1M54.5 246v1M55.5 246v1M56.5 247v1M57.5 248v1M58.5 248v1M59.5 249v1M60.5 249v1M61.5 250v1M62.5 250v1M63.5 251v1M64.5 251v1M65.5 252v1M66.5 252v1M67.5 253v1M68.5 254v1M69.5 255v1M70.5 256v1M71.5 256v1M72.5 257v1M73.5 258v1M74.5 259v1M75.5 260v1M76.5 260v1M77.5 261v1M78.5 261v1M79.5 262v1M80.5 262v1M81.5 263v1M82.5 263v1M83.5 264v1M84.5 263v1M85.5 263v1M86.5 262v1M87.5 262v1M88.5 261v1M89.5 260v1M90.5 260v1M91.5 259v1M92.5 257v2M93.5 256v1M94.5 254v2M95.5 253v1M96.5 251v2M97.5 250v1M98.5 248v2M99.5 247v1M100.5 245v2M101.5 243v2M102.5 242v1M103.5 240v2M104.5 239v1M105.5 237v2M106.5 235v2M107.5 234v1M108.5 232v2M109.5 230v2M110.5 228v2M111.5 227v1M112.5 225v2M113.5 223v2M114.5 221v2M115.5 220v1M116.5 218v2M117.5 216v2M118.5 215v1M119.5 213v2M120.5 212v1M121.5 210v2M122.5 208v2M123.5 207v1M124.5 205v2M125.5 204v1M126.5 202v2M127.5 201v1M128.5 199v2M129.5 198v1M130.5 196v2M131.5 195v1M132.5 194v1M133.5 193v1M134.5 192v1M135.5 191v1M136.5 190v1M137.5 189v1M138.5 188v1M139.5 187v1M140.5 186v1M141.5 185v1M142.5 184v1M143.5 184v1M144.5 183v1M145.5 182v1M146.5 181v1M147.5 180v1M148.5 180v1M149.5 179v1M150.5 179v1M151.5 178v1M152.5 178v1M153.5 177v1M154.5 177v1M155.5 176v1M156.5 176v1M157.5 175v1M158.5 175v1M159.5 174v1M160.5 174v1M161.5 173v1M162.5 173v1M163.5 172v1M164.5 171v1M165.5 170v1M166.5 169v1M167.5 167v2M168.5 166v1M169.5 165v1M170.5 164v1M171.5 163v1M172.5 162v1M173.5 161v1M174.5 160v1M175.5 159v1M176.5 158v1M177.5 157v1M178.5 156v1M179.5 155v1M180.5 154v1M181.5 154v1M182.5 153v1M183.5 152v1M184.5 151v1M185.5 151v1M186.5 150v1M187.5 149v1M188.5 148v1M189.5 148v1M190.5 147v1M191.5 147v1M192.5 146v1M193.5 145v1M194.5 145v1M195.5 144v1M196.5 144v1M197.5 144v1M198.5 143v1M199.5 143v1M200.5 143v1M201.5 143v1M202.5 142v1M203.5 142v1M204.5 142v1M205.5 141v1M206.5 141v1M207.5 141v1M208.5 140v1M209.5 140v1M210.5 139v1M211.5 139v1M212.5 139v1M213.5 139v1M214.5 139v1M215.5 139v1M216.5 140v1M217.5 140v1M218.5 140v1M219.5 140v1M220.5 139v1M221.5 138v1M222.5 137v1M223.5 137v1M224.5 136v1M225.5 135v1M226.5 134v1M227.5 133v1M228.5 132v1M229.5 131v1M230.5 130v1M231.5 128v2M232.5 127v1M233.5 126v1M234.5 125v1M235.5 124v1M236.5 124v1M237.5 124v1M238.5 125v1M239.5 125v1M240.5 125v1M241.5 125v1M242.5 126v1M243.5 126v1M244.5 127v2M245.5 129v2M246.5 131v2M247.5 133v1M248.5 134v2M249.5 136v2M250.5 138v2M251.5 140v1M252.5 141v2M253.5 143v1M254.5 144v1M255.5 145v2M256.5 147v1M257.5 148v1M258.5 149v2M259.5 151v1M260.5 152v1M261.5 153v2M262.5 155v1M263.5 156v1M264.5 157v1M265.5 158v2M266.5 160v1M267.5 161v1M268.5 162v1M269.5 163v1M270.5 164v1M271.5 164v1M272.5 165v1M273.5 166v1M274.5 167v1M275.5 168v1M276.5 169v1M277.5 170v1M278.5 171v1M279.5 172v2M280.5 174v1M281.5 175v1M282.5 176v1M283.5 177v1M284.5 178v1M285.5 179v1M286.5 180v1M287.5 180v1M288.5 181v1M289.5 182v1M290.5 183v1M291.5 184v1M292.5 184v1M293.5 184v1M294.5 185v1M295.5 185v1M296.5 185v1M297.5 185v1M298.5 186v1M299.5 186v1M300.5 187v1M301.5 187v1M302.5 188v1M303.5 188v1M304.5 189v1M305.5 190v1M306.5 190v1M307.5 191v1M308.5 192v1M309.5 193v1M310.5 194v1M311.5 194v1M312.5 195v1M313.5 196v1M314.5 197v1M315.5 198v1M316.5 199v1M317.5 200v1M318.5 201v1M319.5 201v1M320.5 202v1M321.5 203v1M322.5 204v1M323.5 205v1M324.5 205v1M325.5 206v1M326.5 206v1M327.5 207v1M328.5 207v1M329.5 208v1M330.5 208v1M331.5 209v1M332.5 210v1M333.5 210v1M334.5 211v1M335.5 211v1M336.5 212v1M337.5 213v1M338.5 213v1M339.5 214v1M340.5 215v1M341.5 216v1M342.5 217v1M343.5 217v1M344.5 218v1M345.5 219v1M346.5 220v1M347.5 221v1M348.5 222v1M349.5 223v1M350.5 224v1M351.5 225v2M352.5 227v1M353.5 228v1M354.5 229v1M355.5 230v1M356.5 231v2M357.5 233v1M358.5 234v1M359.5 235v2M360.5 237v1M361.5 238v1M362.5 239v2M363.5 241v1M364.5 242v1M365.5 242v1M366.5 243v1M367.5 243v1M368.5 244v1M369.5 245v1M370.5 245v1M371.5 246v1M372.5 246v1M373.5 247v1M374.5 247v1M375.5 247v1M376.5 248v1M377.5 248v1M378.5 249v1M379.5 249v1M380.5 249v1M381.5 249v1M382.5 250v1M383.5 250v1M384.5 250v1M385.5 250v1M386.5 251v1M387.5 251v1M388.5 251v1M389.5 251v1M390.5 251v1M391.5 251v1M392.5 251v1M393.5 251v1M394.5 251v1M395.5 251v1M396.5 251v1M397.5 251v1M398.5 252v1M399.5 252v1M400.5 252v1M401.5 252v1M402.5 253v1M403.5 253v1M404.5 253v1M405.5 252v1M406.5 252v1M407.5 252v1M408.5 251v1M409.5 251v1M410.5 250v1M411.5 250v1M412.5 250v1M413.5 250v1M414.5 250v1M415.5 250v1M416.5 251v1M417.5 251v1M418.5 251v1M419.5 251v1M420.5 252v1M421.5 253v1M422.5 254v1M423.5 254v1M424.5 255v1M425.5 256v1M426.5 257v1M427.5 258v1M428.5 259v1M429.5 259v1M430.5 260v1M431.5 261v1M432.5 262v1M433.5 262v1M434.5 263v1M435.5 264v1M436.5 264v1M437.5 263v1M438.5 263v1M439.5 263v1M440.5 262v1M441.5 262v1M442.5 261v1M443.5 261v1M444.5 260v1M445.5 258v2M446.5 257v1M447.5 256v1M448.5 255v1M449.5 253v2M450.5 252v1M451.5 251v1M452.5 250v1M453.5 249v1M454.5 248v1M455.5 247v1M456.5 246v1M457.5 245v1M458.5 244v1M459.5 243v1M460.5 243v1M461.5 243v1M462.5 243v1M463.5 243v1M464.5 244v1M465.5 244v1M466.5 244v1M467.5 244v1M468.5 244v1M469.5 245v1M470.5 245v1M471.5 246v1M472.5 246v1M473.5 247v1M474.5 247v1M475.5 248v1M476.5 248v1M477.5 248v1M478.5 248v1M479.5 248v1M480.5 247v1M481.5 247v1M482.5 247v1M483.5 247v1M484.5 247v1M485.5 246v1M486.5 246v1M487.5 245v1M488.5 245v1M489.5 244v1M490.5 244v1M491.5 243v1M492.5 241v2M493.5 240v1M494.5 239v1M495.5 237v2M496.5 236v1M497.5 235v1M498.5 233v2M499.5 231v2M500.5 229v2M501.5 227v2M502.5 225v2M503.5 223v2M504.5 221v2M505.5 219v2M506.5 217v2M507.5 214v3M508.5 212v2M509.5 210v2M510.5 208v2M511.5 206v2M512.5 204v2M513.5 202v2M514.5 200v2M515.5 198v2M516.5 198v1M517.5 197v1M518.5 197v1M519.5 197v1M520.5 196v1M521.5 196v1M522.5 195v1M523.5 195v1M524.5 195v1M525.5 194v1M526.5 194v1M527.5 194v1M528.5 193v1M529.5 193v1M530.5 192v1M531.5 192v1M532.5 191v1M533.5 190v1M534.5 189v1M535.5 189v1M536.5 188v1M537.5 187v1M538.5 186v1M539.5 185v1M540.5 184v1M541.5 183v1M542.5 182v1M543.5 180v2M544.5 179v1M545.5 178v1M546.5 177v1M547.5 176v1M548.5 175v1M549.5 173v2M550.5 172v1M551.5 171v1M552.5 170v1M553.5 168v2M554.5 167v1M555.5 166v1M556.5 165v1M557.5 164v1M558.5 163v1M559.5 163v1M560.5 162v1M561.5 161v1M562.5 160v1M563.5 159v1M564.5 159v1M565.5 158v1M566.5 158v1M567.5 157v1M568.5 157v1M569.5 156v1M570.5 156v1M571.5 155v1M572.5 154v1M573.5 152v2M574.5 151v1M575.5 150v1M576.5 149v1M577.5 147v2M578.5 146v1M579.5 145v1M580.5 144v1M581.5 143v1M582.5 142v1M583.5 140v2M584.5 139v1M585.5 138v1M586.5 137v1M587.5 136v1M588.5 135v1M589.5 135v1M590.5 134v1M591.5 133v1M592.5 132v1M593.5 132v1M594.5 131v1M595.5 130v1M596.5 130v1M597.5 130v1M598.5 129v1M599.5 129v1M600.5 129v1M601.5 129v1M602.5 128v1M603.5 128v1M604.5 128v1M605.5 128v1M606.5 128v1M607.5 128v1M608.5 128v1M609.5 128v1M610.5 128v1M611.5 128v1M612.5 128v1M613.5 128v1M614.5 128v1M615.5 128v1M616.5 127v1M617.5 127v1M618.5 127v1M619.5 127v1M620.5 126v1M621.5 125v1M622.5 124v1M623.5 122v2M624.5 121v1M625.5 120v1M626.5 119v1M627.5 118v1M628.5 116v2M629.5 114v2M630.5 113v1M631.5 111v2M632.5 110v1M633.5 108v2M634.5 106v2M635.5 105v1M636.5 104v1M637.5 103v1M638.5 102v1M639.5 100v2M640.5 99v1M641.5 98v1M642.5 97v1M643.5 96v1M644.5 96v1M645.5 96v1M646.5 96v1M647.5 96v1M648.5 95v1M649.5 95v1M650.5 95v1M651.5 95v1M652.5 95v1M653.5 95v1M654.5 95v1M655.5 95v1M656.5 94v1M657.5 94v1M658.5 94v1M659.5 94v1M660.5 94v1M661.5 94v1M662.5 94v1M663.5 94v1M664.5 93v1M665.5 93v1M666.5 93v1M667.5 93v1M668.5 93v1M669.5 93v1M670.5 92v1M671.5 92v1M672.5 92v1M673.5 92v1M674.5 91v1M675.5 91v1M676.5 91v1M677.5 91v1M678.5 90v1M679.5 90v1M680.5 90v1M681.5 90v1M682.5 89v1M683.5 89v1M684.5 89v1M685.5 88v1M686.5 88v1M687.5 87v1M688.5 87v1M689.5 86v1M690.5 86v1M691.5 85v1M692.5 84v1M693.5 84v1M694.5 83v1M695.5 83v1M696.5 82v1M697.5 81v1M698.5 81v1M699.5 80v1M700.5 79v1M701.5 79v1M702.5 78v1M703.5 77v1M704.5 76v1M705.5 76v1M706.5 75v1M707.5 74v1M708.5 74v1M709.5 73v1M710.5 73v1M711.5 72v1M712.5 72v1M713.5 71v1M714.5 71v1M715.5 70v1M716.5 70v1M717.5 70v1M718.5 69v1M719.5 69v1M720.5 69v1M721.5 69v1M722.5 68v1M723.5 68v1M724.5 68v1M725.5 68v1M726.5 68v1M727.5 68v1M728.5 68v1M729.5 68v1M730.5 68v1M731.5 68v1M732.5 68v1M733.5 69v1M734.5 69v1M735.5 69v1M736.5 70v1M737.5 70v1M738.5 71v1M739.5 71v1M740.5 70v1M741.5 70v1M742.5 69v1M743.5 68v1M744.5 67v1M745.5 67v1M746.5 66v1M747.5 65v1M748.5 65v1M749.5 64v1M750.5 64v1M751.5 64v1M752.5 63v1M753.5 63v1M754.5 62v1M755.5 62v1M756.5 62v1M757.5 62v1M758.5 62v1M759.5 62v1M760.5 62v1M761.5 62v1M762.5 62v1M763.5 62v1M764.5 62v1M765.5 62v1M766.5 61v1M767.5 61v1M768.5 61v1M769.5 61v1M770.5 60v1M771.5 60v1M772.5 60v1M773.5 61v1M774.5 61v1M775.5 62v1M776.5 62v1M777.5 63v1M778.5 63v1M779.5 64v1M780.5 64v1M781.5 65v1M782.5 65v1M783.5 66v1M784.5 66v1M785.5 67v1M786.5 67v1M787.5 68v1M788.5 68v1M789.5 68v1M790.5 69v1M791.5 69v1M792.5 69v1M793.5 69v1M794.5 70v1" fill="none" stroke="#ffff00" stroke-width="1" shape-rendering="crispEdges"/>
<g clip-path="url(#cm)">
<g transform="translate(19.5,195.2)"><path d="M0.2,0 L5.7,9.5 L0.2,6.7 Z" fill="#fff" stroke="#b2b6ca" stroke-width="0.8" stroke-linejoin="round"/><path d="M0.2,-0.1 L-6,9.7 L0.2,6.7 Z" fill="#747474"/></g>
<g transform="translate(123.5,108.2)"><path d="M0.2,0 L5.7,9.5 L0.2,6.7 Z" fill="#fff" stroke="#b2b6ca" stroke-width="0.8" stroke-linejoin="round"/><path d="M0.2,-0.1 L-6,9.7 L0.2,6.7 Z" fill="#747474"/></g>
<g transform="translate(147.5,88.2)"><path d="M0.2,0 L5.7,9.5 L0.2,6.7 Z" fill="#fff" stroke="#b2b6ca" stroke-width="0.8" stroke-linejoin="round"/><path d="M0.2,-0.1 L-6,9.7 L0.2,6.7 Z" fill="#747474"/></g>
<g transform="translate(171.5,86.9)"><path d="M0.2,0 L5.7,9.5 L0.2,6.7 Z" fill="#fff" stroke="#b2b6ca" stroke-width="0.8" stroke-linejoin="round"/><path d="M0.2,-0.1 L-6,9.7 L0.2,6.7 Z" fill="#747474"/></g>
<g transform="translate(211.5,35.2)"><path d="M0.2,0 L5.7,9.5 L0.2,6.7 Z" fill="#fff" stroke="#b2b6ca" stroke-width="0.8" stroke-linejoin="round"/><path d="M0.2,-0.1 L-6,9.7 L0.2,6.7 Z" fill="#747474"/></g>
<g transform="translate(251.5,156.0)"><path d="M0.2,0 L5.7,9.5 L0.2,6.7 Z" fill="#fff" stroke="#b2b6ca" stroke-width="0.8" stroke-linejoin="round"/><path d="M0.2,-0.1 L-6,9.7 L0.2,6.7 Z" fill="#747474"/></g>
<g transform="translate(275.5,149.2)"><path d="M0.2,0 L5.7,9.5 L0.2,6.7 Z" fill="#fff" stroke="#b2b6ca" stroke-width="0.8" stroke-linejoin="round"/><path d="M0.2,-0.1 L-6,9.7 L0.2,6.7 Z" fill="#747474"/></g>
<g transform="translate(363.5,206.2)"><path d="M0.2,0 L5.7,9.5 L0.2,6.7 Z" fill="#fff" stroke="#b2b6ca" stroke-width="0.8" stroke-linejoin="round"/><path d="M0.2,-0.1 L-6,9.7 L0.2,6.7 Z" fill="#747474"/></g>
<g transform="translate(387.5,204.4)"><path d="M0.2,0 L5.7,9.5 L0.2,6.7 Z" fill="#fff" stroke="#b2b6ca" stroke-width="0.8" stroke-linejoin="round"/><path d="M0.2,-0.1 L-6,9.7 L0.2,6.7 Z" fill="#747474"/></g>
<g transform="translate(443.5,172.2)"><path d="M0.2,0 L5.7,9.5 L0.2,6.7 Z" fill="#fff" stroke="#b2b6ca" stroke-width="0.8" stroke-linejoin="round"/><path d="M0.2,-0.1 L-6,9.7 L0.2,6.7 Z" fill="#747474"/></g>
<g transform="translate(491.5,86.9)"><path d="M0.2,0 L5.7,9.5 L0.2,6.7 Z" fill="#fff" stroke="#b2b6ca" stroke-width="0.8" stroke-linejoin="round"/><path d="M0.2,-0.1 L-6,9.7 L0.2,6.7 Z" fill="#747474"/></g>
<g transform="translate(531.5,89.4)"><path d="M0.2,0 L5.7,9.5 L0.2,6.7 Z" fill="#fff" stroke="#b2b6ca" stroke-width="0.8" stroke-linejoin="round"/><path d="M0.2,-0.1 L-6,9.7 L0.2,6.7 Z" fill="#747474"/></g>
<g transform="translate(555.5,65.2)"><path d="M0.2,0 L5.7,9.5 L0.2,6.7 Z" fill="#fff" stroke="#b2b6ca" stroke-width="0.8" stroke-linejoin="round"/><path d="M0.2,-0.1 L-6,9.7 L0.2,6.7 Z" fill="#747474"/></g>
<g transform="translate(619.5,14.2)"><path d="M0.2,0 L5.7,9.5 L0.2,6.7 Z" fill="#fff" stroke="#b2b6ca" stroke-width="0.8" stroke-linejoin="round"/><path d="M0.2,-0.1 L-6,9.7 L0.2,6.7 Z" fill="#747474"/></g>
<g transform="translate(683.5,4.4)"><path d="M0.2,0 L5.7,9.5 L0.2,6.7 Z" fill="#fff" stroke="#b2b6ca" stroke-width="0.8" stroke-linejoin="round"/><path d="M0.2,-0.1 L-6,9.7 L0.2,6.7 Z" fill="#747474"/></g>
<g transform="translate(731.5,6.4)"><path d="M0.2,0 L5.7,9.5 L0.2,6.7 Z" fill="#fff" stroke="#b2b6ca" stroke-width="0.8" stroke-linejoin="round"/><path d="M0.2,-0.1 L-6,9.7 L0.2,6.7 Z" fill="#747474"/></g>
<g transform="translate(59.5,338.4)"><path d="M-0.2,0 L-5.6,-9.2 L-0.2,-6.5 Z" fill="#fff" stroke="#b2b6ca" stroke-width="0.8" stroke-linejoin="round"/><path d="M-0.2,0.1 L5.9,-9.4 L-0.2,-6.5 Z" fill="#747474"/></g>
<g transform="translate(123.5,196.4)"><path d="M-0.2,0 L-5.6,-9.2 L-0.2,-6.5 Z" fill="#fff" stroke="#b2b6ca" stroke-width="0.8" stroke-linejoin="round"/><path d="M-0.2,0.1 L5.9,-9.4 L-0.2,-6.5 Z" fill="#747474"/></g>
<g transform="translate(195.5,179.3)"><path d="M-0.2,0 L-5.6,-9.2 L-0.2,-6.5 Z" fill="#fff" stroke="#b2b6ca" stroke-width="0.8" stroke-linejoin="round"/><path d="M-0.2,0.1 L5.9,-9.4 L-0.2,-6.5 Z" fill="#747474"/></g>
<g transform="translate(235.5,245.2)"><path d="M-0.2,0 L-5.6,-9.2 L-0.2,-6.5 Z" fill="#fff" stroke="#b2b6ca" stroke-width="0.8" stroke-linejoin="round"/><path d="M-0.2,0.1 L5.9,-9.4 L-0.2,-6.5 Z" fill="#747474"/></g>
<g transform="translate(267.5,252.4)"><path d="M-0.2,0 L-5.6,-9.2 L-0.2,-6.5 Z" fill="#fff" stroke="#b2b6ca" stroke-width="0.8" stroke-linejoin="round"/><path d="M-0.2,0.1 L5.9,-9.4 L-0.2,-6.5 Z" fill="#747474"/></g>
<g transform="translate(299.5,273.4)"><path d="M-0.2,0 L-5.6,-9.2 L-0.2,-6.5 Z" fill="#fff" stroke="#b2b6ca" stroke-width="0.8" stroke-linejoin="round"/><path d="M-0.2,0.1 L5.9,-9.4 L-0.2,-6.5 Z" fill="#747474"/></g>
<g transform="translate(347.5,313.4)"><path d="M-0.2,0 L-5.6,-9.2 L-0.2,-6.5 Z" fill="#fff" stroke="#b2b6ca" stroke-width="0.8" stroke-linejoin="round"/><path d="M-0.2,0.1 L5.9,-9.4 L-0.2,-6.5 Z" fill="#747474"/></g>
<g transform="translate(403.5,317.3)"><path d="M-0.2,0 L-5.6,-9.2 L-0.2,-6.5 Z" fill="#fff" stroke="#b2b6ca" stroke-width="0.8" stroke-linejoin="round"/><path d="M-0.2,0.1 L5.9,-9.4 L-0.2,-6.5 Z" fill="#747474"/></g>
<g transform="translate(443.5,321.3)"><path d="M-0.2,0 L-5.6,-9.2 L-0.2,-6.5 Z" fill="#fff" stroke="#b2b6ca" stroke-width="0.8" stroke-linejoin="round"/><path d="M-0.2,0.1 L5.9,-9.4 L-0.2,-6.5 Z" fill="#747474"/></g>
<g transform="translate(499.5,223.3)"><path d="M-0.2,0 L-5.6,-9.2 L-0.2,-6.5 Z" fill="#fff" stroke="#b2b6ca" stroke-width="0.8" stroke-linejoin="round"/><path d="M-0.2,0.1 L5.9,-9.4 L-0.2,-6.5 Z" fill="#747474"/></g>
<g transform="translate(547.5,185.1)"><path d="M-0.2,0 L-5.6,-9.2 L-0.2,-6.5 Z" fill="#fff" stroke="#b2b6ca" stroke-width="0.8" stroke-linejoin="round"/><path d="M-0.2,0.1 L5.9,-9.4 L-0.2,-6.5 Z" fill="#747474"/></g>
<g transform="translate(587.5,164.6)"><path d="M-0.2,0 L-5.6,-9.2 L-0.2,-6.5 Z" fill="#fff" stroke="#b2b6ca" stroke-width="0.8" stroke-linejoin="round"/><path d="M-0.2,0.1 L5.9,-9.4 L-0.2,-6.5 Z" fill="#747474"/></g>
<g transform="translate(627.5,125.4)"><path d="M-0.2,0 L-5.6,-9.2 L-0.2,-6.5 Z" fill="#fff" stroke="#b2b6ca" stroke-width="0.8" stroke-linejoin="round"/><path d="M-0.2,0.1 L5.9,-9.4 L-0.2,-6.5 Z" fill="#747474"/></g>
<g transform="translate(715.5,109.3)"><path d="M-0.2,0 L-5.6,-9.2 L-0.2,-6.5 Z" fill="#fff" stroke="#b2b6ca" stroke-width="0.8" stroke-linejoin="round"/><path d="M-0.2,0.1 L5.9,-9.4 L-0.2,-6.5 Z" fill="#747474"/></g>
</g>
<g shape-rendering="crispEdges" fill="#000">
<rect x="3" y="229" width="1" height="35"/>
<rect x="4" y="260" width="2" height="1"/>
<rect x="11" y="221" width="1" height="42"/>
<rect x="9" y="261" width="2" height="1"/>
<rect x="12" y="236" width="2" height="1"/>
<rect x="19" y="210" width="1" height="38"/>
<rect x="17" y="236" width="2" height="1"/>
<rect x="20" y="216" width="2" height="1"/>
<rect x="27" y="212" width="1" height="32"/>
<rect x="25" y="218" width="2" height="1"/>
<rect x="28" y="234" width="2" height="1"/>
<rect x="35" y="225" width="1" height="82"/>
<rect x="33" y="234" width="2" height="1"/>
<rect x="36" y="292" width="2" height="1"/>
<rect x="43" y="249" width="1" height="47"/>
<rect x="41" y="292" width="2" height="1"/>
<rect x="44" y="265" width="2" height="1"/>
<rect x="51" y="251" width="1" height="59"/>
<rect x="49" y="265" width="2" height="1"/>
<rect x="52" y="305" width="2" height="1"/>
<rect x="59" y="242" width="1" height="84"/>
<rect x="57" y="305" width="2" height="1"/>
<rect x="60" y="247" width="2" height="1"/>
<rect x="67" y="186" width="1" height="112"/>
<rect x="65" y="297" width="2" height="1"/>
<rect x="68" y="201" width="2" height="1"/>
<rect x="75" y="187" width="1" height="23"/>
<rect x="73" y="201" width="2" height="1"/>
<rect x="76" y="200" width="2" height="1"/>
<rect x="83" y="178" width="1" height="27"/>
<rect x="81" y="200" width="2" height="1"/>
<rect x="84" y="188" width="2" height="1"/>
<rect x="91" y="133" width="1" height="69"/>
<rect x="89" y="188" width="2" height="1"/>
<rect x="92" y="141" width="2" height="1"/>
<rect x="99" y="133" width="1" height="44"/>
<rect x="97" y="140" width="2" height="1"/>
<rect x="100" y="152" width="2" height="1"/>
<rect x="107" y="130" width="1" height="37"/>
<rect x="105" y="151" width="2" height="1"/>
<rect x="108" y="156" width="2" height="1"/>
<rect x="115" y="132" width="1" height="48"/>
<rect x="113" y="156" width="2" height="1"/>
<rect x="116" y="173" width="2" height="1"/>
<rect x="123" y="123" width="1" height="61"/>
<rect x="121" y="173" width="2" height="1"/>
<rect x="124" y="170" width="2" height="1"/>
<rect x="131" y="147" width="1" height="29"/>
<rect x="129" y="170" width="2" height="1"/>
<rect x="132" y="151" width="2" height="1"/>
<rect x="139" y="137" width="1" height="29"/>
<rect x="137" y="151" width="2" height="1"/>
<rect x="140" y="138" width="2" height="1"/>
<rect x="147" y="103" width="1" height="41"/>
<rect x="145" y="137" width="2" height="1"/>
<rect x="148" y="131" width="2" height="1"/>
<rect x="155" y="118" width="1" height="32"/>
<rect x="153" y="131" width="2" height="1"/>
<rect x="156" y="123" width="2" height="1"/>
<rect x="163" y="105" width="1" height="34"/>
<rect x="161" y="123" width="2" height="1"/>
<rect x="164" y="109" width="2" height="1"/>
<rect x="171" y="102" width="1" height="40"/>
<rect x="169" y="109" width="2" height="1"/>
<rect x="172" y="121" width="2" height="1"/>
<rect x="179" y="117" width="1" height="32"/>
<rect x="177" y="120" width="2" height="1"/>
<rect x="180" y="133" width="2" height="1"/>
<rect x="187" y="110" width="1" height="38"/>
<rect x="185" y="133" width="2" height="1"/>
<rect x="188" y="142" width="2" height="1"/>
<rect x="195" y="129" width="1" height="38"/>
<rect x="193" y="142" width="2" height="1"/>
<rect x="196" y="136" width="2" height="1"/>
<rect x="203" y="67" width="1" height="74"/>
<rect x="201" y="136" width="2" height="1"/>
<rect x="204" y="72" width="2" height="1"/>
<rect x="211" y="50" width="1" height="75"/>
<rect x="209" y="72" width="2" height="1"/>
<rect x="212" y="112" width="2" height="1"/>
<rect x="219" y="97" width="1" height="74"/>
<rect x="217" y="112" width="2" height="1"/>
<rect x="220" y="170" width="2" height="1"/>
<rect x="227" y="167" width="1" height="46"/>
<rect x="225" y="174" width="2" height="1"/>
<rect x="228" y="204" width="2" height="1"/>
<rect x="235" y="183" width="1" height="50"/>
<rect x="233" y="203" width="2" height="1"/>
<rect x="236" y="204" width="2" height="1"/>
<rect x="243" y="186" width="1" height="27"/>
<rect x="241" y="204" width="2" height="1"/>
<rect x="244" y="211" width="2" height="1"/>
<rect x="251" y="171" width="1" height="42"/>
<rect x="249" y="211" width="2" height="1"/>
<rect x="252" y="199" width="2" height="1"/>
<rect x="259" y="190" width="1" height="44"/>
<rect x="257" y="199" width="2" height="1"/>
<rect x="260" y="228" width="2" height="1"/>
<rect x="267" y="201" width="1" height="39"/>
<rect x="265" y="228" width="2" height="1"/>
<rect x="268" y="206" width="2" height="1"/>
<rect x="275" y="164" width="1" height="50"/>
<rect x="273" y="205" width="2" height="1"/>
<rect x="276" y="198" width="2" height="1"/>
<rect x="283" y="194" width="1" height="43"/>
<rect x="281" y="198" width="2" height="1"/>
<rect x="284" y="223" width="2" height="1"/>
<rect x="291" y="205" width="1" height="35"/>
<rect x="289" y="223" width="2" height="1"/>
<rect x="292" y="230" width="2" height="1"/>
<rect x="299" y="217" width="1" height="44"/>
<rect x="297" y="230" width="2" height="1"/>
<rect x="300" y="220" width="2" height="1"/>
<rect x="307" y="214" width="1" height="18"/>
<rect x="305" y="221" width="2" height="1"/>
<rect x="308" y="224" width="2" height="1"/>
<rect x="315" y="217" width="1" height="32"/>
<rect x="313" y="224" width="2" height="1"/>
<rect x="316" y="244" width="2" height="1"/>
<rect x="323" y="234" width="1" height="34"/>
<rect x="321" y="244" width="2" height="1"/>
<rect x="324" y="265" width="2" height="1"/>
<rect x="331" y="252" width="1" height="27"/>
<rect x="329" y="264" width="2" height="1"/>
<rect x="332" y="269" width="2" height="1"/>
<rect x="339" y="259" width="1" height="40"/>
<rect x="337" y="269" width="2" height="1"/>
<rect x="340" y="294" width="2" height="1"/>
<rect x="347" y="256" width="1" height="45"/>
<rect x="345" y="292" width="2" height="1"/>
<rect x="348" y="262" width="2" height="1"/>
<rect x="355" y="244" width="1" height="36"/>
<rect x="353" y="261" width="2" height="1"/>
<rect x="356" y="279" width="2" height="1"/>
<rect x="363" y="221" width="1" height="65"/>
<rect x="361" y="279" width="2" height="1"/>
<rect x="364" y="233" width="2" height="1"/>
<rect x="371" y="230" width="1" height="49"/>
<rect x="369" y="233" width="2" height="1"/>
<rect x="372" y="268" width="2" height="1"/>
<rect x="379" y="247" width="1" height="25"/>
<rect x="377" y="268" width="2" height="1"/>
<rect x="380" y="251" width="2" height="1"/>
<rect x="387" y="219" width="1" height="37"/>
<rect x="385" y="251" width="2" height="1"/>
<rect x="388" y="226" width="2" height="1"/>
<rect x="395" y="219" width="1" height="75"/>
<rect x="393" y="226" width="2" height="1"/>
<rect x="396" y="292" width="2" height="1"/>
<rect x="403" y="279" width="1" height="26"/>
<rect x="401" y="292" width="2" height="1"/>
<rect x="404" y="295" width="2" height="1"/>
<rect x="411" y="271" width="1" height="27"/>
<rect x="409" y="295" width="2" height="1"/>
<rect x="412" y="276" width="2" height="1"/>
<rect x="419" y="217" width="1" height="63"/>
<rect x="417" y="276" width="2" height="1"/>
<rect x="420" y="248" width="2" height="1"/>
<rect x="427" y="192" width="1" height="50"/>
<rect x="425" y="224" width="2" height="1"/>
<rect x="428" y="201" width="2" height="1"/>
<rect x="435" y="192" width="1" height="36"/>
<rect x="433" y="201" width="2" height="1"/>
<rect x="436" y="200" width="2" height="1"/>
<rect x="443" y="187" width="1" height="122"/>
<rect x="441" y="200" width="2" height="1"/>
<rect x="444" y="279" width="2" height="1"/>
<rect x="451" y="249" width="1" height="43"/>
<rect x="449" y="279" width="2" height="1"/>
<rect x="452" y="260" width="2" height="1"/>
<rect x="459" y="224" width="1" height="38"/>
<rect x="457" y="261" width="2" height="1"/>
<rect x="460" y="232" width="2" height="1"/>
<rect x="467" y="201" width="1" height="51"/>
<rect x="465" y="223" width="2" height="1"/>
<rect x="468" y="205" width="2" height="1"/>
<rect x="475" y="172" width="1" height="43"/>
<rect x="473" y="206" width="2" height="1"/>
<rect x="476" y="183" width="2" height="1"/>
<rect x="483" y="111" width="1" height="77"/>
<rect x="481" y="183" width="2" height="1"/>
<rect x="484" y="140" width="2" height="1"/>
<rect x="491" y="102" width="1" height="53"/>
<rect x="489" y="139" width="2" height="1"/>
<rect x="492" y="151" width="2" height="1"/>
<rect x="499" y="147" width="1" height="64"/>
<rect x="497" y="151" width="2" height="1"/>
<rect x="500" y="188" width="2" height="1"/>
<rect x="507" y="166" width="1" height="29"/>
<rect x="505" y="180" width="2" height="1"/>
<rect x="508" y="167" width="2" height="1"/>
<rect x="515" y="142" width="1" height="27"/>
<rect x="513" y="167" width="2" height="1"/>
<rect x="516" y="145" width="2" height="1"/>
<rect x="523" y="131" width="1" height="27"/>
<rect x="521" y="145" width="2" height="1"/>
<rect x="524" y="146" width="2" height="1"/>
<rect x="531" y="104" width="1" height="51"/>
<rect x="529" y="147" width="2" height="1"/>
<rect x="532" y="114" width="2" height="1"/>
<rect x="539" y="104" width="1" height="45"/>
<rect x="537" y="115" width="2" height="1"/>
<rect x="540" y="147" width="2" height="1"/>
<rect x="547" y="108" width="1" height="64"/>
<rect x="545" y="147" width="2" height="1"/>
<rect x="548" y="116" width="2" height="1"/>
<rect x="555" y="80" width="1" height="46"/>
<rect x="553" y="116" width="2" height="1"/>
<rect x="556" y="89" width="2" height="1"/>
<rect x="563" y="82" width="1" height="40"/>
<rect x="561" y="89" width="2" height="1"/>
<rect x="564" y="114" width="2" height="1"/>
<rect x="571" y="98" width="1" height="27"/>
<rect x="569" y="114" width="2" height="1"/>
<rect x="572" y="107" width="2" height="1"/>
<rect x="579" y="105" width="1" height="24"/>
<rect x="577" y="107" width="2" height="1"/>
<rect x="580" y="115" width="2" height="1"/>
<rect x="587" y="108" width="1" height="44"/>
<rect x="585" y="115" width="2" height="1"/>
<rect x="588" y="137" width="2" height="1"/>
<rect x="595" y="103" width="1" height="35"/>
<rect x="593" y="137" width="2" height="1"/>
<rect x="596" y="111" width="2" height="1"/>
<rect x="603" y="67" width="1" height="45"/>
<rect x="601" y="111" width="2" height="1"/>
<rect x="604" y="72" width="2" height="1"/>
<rect x="611" y="33" width="1" height="46"/>
<rect x="609" y="72" width="2" height="1"/>
<rect x="612" y="44" width="2" height="1"/>
<rect x="619" y="29" width="1" height="53"/>
<rect x="617" y="44" width="2" height="1"/>
<rect x="620" y="71" width="2" height="1"/>
<rect x="627" y="67" width="1" height="46"/>
<rect x="625" y="71" width="2" height="1"/>
<rect x="628" y="103" width="2" height="1"/>
<rect x="635" y="75" width="1" height="32"/>
<rect x="633" y="103" width="2" height="1"/>
<rect x="636" y="81" width="2" height="1"/>
<rect x="643" y="75" width="1" height="34"/>
<rect x="641" y="81" width="2" height="1"/>
<rect x="644" y="90" width="2" height="1"/>
<rect x="651" y="72" width="1" height="29"/>
<rect x="649" y="89" width="2" height="1"/>
<rect x="652" y="82" width="2" height="1"/>
<rect x="659" y="70" width="1" height="29"/>
<rect x="657" y="82" width="2" height="1"/>
<rect x="660" y="72" width="2" height="1"/>
<rect x="667" y="42" width="1" height="43"/>
<rect x="665" y="72" width="2" height="1"/>
<rect x="668" y="44" width="2" height="1"/>
<rect x="675" y="33" width="1" height="53"/>
<rect x="673" y="44" width="2" height="1"/>
<rect x="676" y="81" width="2" height="1"/>
<rect x="683" y="19" width="1" height="65"/>
<rect x="681" y="81" width="2" height="1"/>
<rect x="684" y="48" width="2" height="1"/>
<rect x="691" y="35" width="1" height="37"/>
<rect x="689" y="48" width="2" height="1"/>
<rect x="692" y="53" width="2" height="1"/>
<rect x="699" y="44" width="1" height="42"/>
<rect x="697" y="53" width="2" height="1"/>
<rect x="700" y="60" width="2" height="1"/>
<rect x="707" y="50" width="1" height="38"/>
<rect x="705" y="59" width="2" height="1"/>
<rect x="708" y="80" width="2" height="1"/>
<rect x="715" y="63" width="1" height="34"/>
<rect x="713" y="80" width="2" height="1"/>
<rect x="716" y="68" width="2" height="1"/>
<rect x="723" y="21" width="1" height="48"/>
<rect x="721" y="68" width="2" height="1"/>
<rect x="724" y="37" width="2" height="1"/>
<rect x="731" y="21" width="1" height="54"/>
<rect x="729" y="37" width="2" height="1"/>
<rect x="732" y="61" width="2" height="1"/>
<rect x="739" y="43" width="1" height="41"/>
<rect x="737" y="61" width="2" height="1"/>
<rect x="740" y="58" width="2" height="1"/>
<rect x="747" y="40" width="1" height="27"/>
<rect x="745" y="58" width="2" height="1"/>
<rect x="748" y="65" width="2" height="1"/>
<rect x="755" y="64" width="1" height="33"/>
<rect x="753" y="65" width="2" height="1"/>
<rect x="756" y="87" width="2" height="1"/>
<rect x="763" y="63" width="1" height="34"/>
<rect x="761" y="87" width="2" height="1"/>
<rect x="764" y="76" width="2" height="1"/>
<rect x="771" y="68" width="1" height="37"/>
<rect x="769" y="75" width="2" height="1"/>
<rect x="772" y="102" width="2" height="1"/>
</g>
<g shape-rendering="crispEdges">
<rect x="3" y="352" width="1" height="30" fill="#ff0000"/>
<rect x="11" y="353" width="1" height="29" fill="#ff0000"/>
<rect x="19" y="353" width="1" height="29" fill="#008000"/>
<rect x="27" y="351" width="1" height="31" fill="#008000"/>
<rect x="35" y="355" width="1" height="27" fill="#ff0000"/>
<rect x="43" y="359" width="1" height="23" fill="#ff0000"/>
<rect x="51" y="363" width="1" height="19" fill="#ff0000"/>
<rect x="59" y="370" width="1" height="12" fill="#ff0000"/>
<rect x="67" y="373" width="1" height="9" fill="#ff0000"/>
<rect x="75" y="370" width="1" height="12" fill="#008000"/>
<rect x="83" y="365" width="1" height="17" fill="#008000"/>
<rect x="91" y="358" width="1" height="24" fill="#008000"/>
<rect x="99" y="350" width="1" height="32" fill="#008000"/>
<rect x="107" y="345" width="1" height="37" fill="#008000"/>
<rect x="115" y="344" width="1" height="38" fill="#008000"/>
<rect x="123" y="343" width="1" height="39" fill="#008000"/>
<rect x="131" y="345" width="1" height="37" fill="#ff0000"/>
<rect x="139" y="346" width="1" height="36" fill="#ff0000"/>
<rect x="147" y="347" width="1" height="35" fill="#ff0000"/>
<rect x="155" y="347" width="1" height="35" fill="#ff0000"/>
<rect x="163" y="347" width="1" height="35" fill="#008000"/>
<rect x="171" y="345" width="1" height="37" fill="#008000"/>
<rect x="179" y="346" width="1" height="36" fill="#ff0000"/>
<rect x="187" y="348" width="1" height="34" fill="#ff0000"/>
<rect x="195" y="350" width="1" height="32" fill="#ff0000"/>
<rect x="203" y="350" width="1" height="32" fill="#ff0000"/>
<rect x="211" y="350" width="1" height="32" fill="#008000"/>
<rect x="219" y="351" width="1" height="31" fill="#ff0000"/>
<rect x="227" y="357" width="1" height="25" fill="#ff0000"/>
<rect x="235" y="363" width="1" height="19" fill="#ff0000"/>
<rect x="243" y="372" width="1" height="10" fill="#ff0000"/>
<rect x="259" y="381" width="1" height="7" fill="#ff0000"/>
<rect x="267" y="381" width="1" height="10" fill="#ff0000"/>
<rect x="275" y="381" width="1" height="9" fill="#008000"/>
<rect x="283" y="381" width="1" height="10" fill="#ff0000"/>
<rect x="291" y="381" width="1" height="13" fill="#ff0000"/>
<rect x="299" y="381" width="1" height="15" fill="#ff0000"/>
<rect x="307" y="381" width="1" height="16" fill="#ff0000"/>
<rect x="315" y="381" width="1" height="20" fill="#ff0000"/>
<rect x="323" y="381" width="1" height="24" fill="#ff0000"/>
<rect x="331" y="381" width="1" height="27" fill="#ff0000"/>
<rect x="339" y="381" width="1" height="30" fill="#ff0000"/>
<rect x="347" y="381" width="1" height="34" fill="#ff0000"/>
<rect x="355" y="381" width="1" height="36" fill="#ff0000"/>
<rect x="363" y="381" width="1" height="36" fill="#008000"/>
<rect x="371" y="381" width="1" height="33" fill="#008000"/>
<rect x="379" y="381" width="1" height="30" fill="#008000"/>
<rect x="387" y="381" width="1" height="25" fill="#008000"/>
<rect x="395" y="381" width="1" height="23" fill="#008000"/>
<rect x="403" y="381" width="1" height="25" fill="#ff0000"/>
<rect x="411" y="381" width="1" height="26" fill="#ff0000"/>
<rect x="419" y="381" width="1" height="23" fill="#008000"/>
<rect x="427" y="381" width="1" height="21" fill="#008000"/>
<rect x="435" y="381" width="1" height="16" fill="#008000"/>
<rect x="443" y="381" width="1" height="10" fill="#008000"/>
<rect x="451" y="381" width="1" height="7" fill="#008000"/>
<rect x="459" y="381" width="1" height="5" fill="#008000"/>
<rect x="467" y="381" width="1" height="5" fill="#008000"/>
<rect x="475" y="381" width="1" height="3" fill="#008000"/>
<rect x="483" y="376" width="1" height="6" fill="#008000"/>
<rect x="491" y="364" width="1" height="18" fill="#008000"/>
<rect x="499" y="358" width="1" height="24" fill="#008000"/>
<rect x="507" y="355" width="1" height="27" fill="#008000"/>
<rect x="515" y="352" width="1" height="30" fill="#008000"/>
<rect x="523" y="352" width="1" height="30" fill="#ff0000"/>
<rect x="531" y="353" width="1" height="29" fill="#ff0000"/>
<rect x="539" y="350" width="1" height="32" fill="#008000"/>
<rect x="547" y="347" width="1" height="35" fill="#008000"/>
<rect x="555" y="344" width="1" height="38" fill="#008000"/>
<rect x="563" y="342" width="1" height="40" fill="#008000"/>
<rect x="571" y="342" width="1" height="40" fill="#ff0000"/>
<rect x="579" y="343" width="1" height="39" fill="#ff0000"/>
<rect x="587" y="343" width="1" height="39" fill="#ff0000"/>
<rect x="595" y="346" width="1" height="36" fill="#ff0000"/>
<rect x="603" y="347" width="1" height="35" fill="#ff0000"/>
<rect x="611" y="345" width="1" height="37" fill="#008000"/>
<rect x="619" y="343" width="1" height="39" fill="#008000"/>
<rect x="627" y="342" width="1" height="40" fill="#008000"/>
<rect x="635" y="341" width="1" height="41" fill="#008000"/>
<rect x="643" y="344" width="1" height="38" fill="#ff0000"/>
<rect x="651" y="348" width="1" height="34" fill="#ff0000"/>
<rect x="659" y="353" width="1" height="29" fill="#ff0000"/>
<rect x="667" y="353" width="1" height="29" fill="#ff0000"/>
<rect x="675" y="353" width="1" height="29" fill="#ff0000"/>
<rect x="683" y="353" width="1" height="29" fill="#008000"/>
<rect x="691" y="352" width="1" height="30" fill="#008000"/>
<rect x="699" y="352" width="1" height="30" fill="#ff0000"/>
<rect x="707" y="355" width="1" height="27" fill="#ff0000"/>
<rect x="715" y="358" width="1" height="24" fill="#ff0000"/>
<rect x="723" y="361" width="1" height="21" fill="#ff0000"/>
<rect x="731" y="363" width="1" height="19" fill="#ff0000"/>
<rect x="739" y="364" width="1" height="18" fill="#ff0000"/>
<rect x="747" y="365" width="1" height="17" fill="#ff0000"/>
<rect x="755" y="366" width="1" height="16" fill="#ff0000"/>
<rect x="763" y="370" width="1" height="12" fill="#ff0000"/>
<rect x="771" y="374" width="1" height="8" fill="#ff0000"/>
<rect x="3" y="463" width="1" height="13" fill="#008000"/>
<rect x="11" y="463" width="1" height="9" fill="#008000"/>
<rect x="19" y="463" width="1" height="4" fill="#008000"/>
<rect x="27" y="463" width="1" height="1" fill="#008000"/>
<rect x="35" y="463" width="1" height="4" fill="#ff0000"/>
<rect x="43" y="463" width="1" height="9" fill="#ff0000"/>
<rect x="51" y="463" width="1" height="15" fill="#ff0000"/>
<rect x="59" y="463" width="1" height="22" fill="#ff0000"/>
<rect x="67" y="463" width="1" height="20" fill="#008000"/>
<rect x="75" y="463" width="1" height="7" fill="#008000"/>
<rect x="83" y="457" width="1" height="7" fill="#008000"/>
<rect x="91" y="444" width="1" height="20" fill="#008000"/>
<rect x="99" y="435" width="1" height="29" fill="#008000"/>
<rect x="107" y="436" width="1" height="28" fill="#ff0000"/>
<rect x="115" y="446" width="1" height="18" fill="#ff0000"/>
<rect x="123" y="453" width="1" height="11" fill="#ff0000"/>
<rect x="131" y="462" width="1" height="2" fill="#ff0000"/>
<rect x="139" y="463" width="1" height="2" fill="#ff0000"/>
<rect x="147" y="463" width="1" height="2" fill="#ff0000"/>
<rect x="155" y="463" width="1" height="2" fill="#008000"/>
<rect x="163" y="463" width="1" height="1" fill="#008000"/>
<rect x="171" y="462" width="1" height="2" fill="#008000"/>
<rect x="179" y="463" width="1" height="1" fill="#ff0000"/>
<rect x="187" y="463" width="1" height="2" fill="#ff0000"/>
<rect x="195" y="463" width="1" height="7" fill="#ff0000"/>
<rect x="203" y="463" width="1" height="5" fill="#008000"/>
<rect x="211" y="463" width="1" height="2" fill="#008000"/>
<rect x="219" y="463" width="1" height="2" fill="#ff0000"/>
<rect x="227" y="463" width="1" height="12" fill="#ff0000"/>
<rect x="235" y="463" width="1" height="19" fill="#ff0000"/>
<rect x="243" y="463" width="1" height="29" fill="#ff0000"/>
<rect x="251" y="463" width="1" height="36" fill="#ff0000"/>
<rect x="259" y="463" width="1" height="35" fill="#008000"/>
<rect x="267" y="463" width="1" height="27" fill="#008000"/>
<rect x="275" y="463" width="1" height="13" fill="#008000"/>
<rect x="283" y="463" width="1" height="7" fill="#008000"/>
<rect x="291" y="463" width="1" height="7" fill="#008000"/>
<rect x="299" y="463" width="1" height="8" fill="#ff0000"/>
<rect x="307" y="463" width="1" height="7" fill="#008000"/>
<rect x="315" y="463" width="1" height="11" fill="#ff0000"/>
<rect x="323" y="463" width="1" height="13" fill="#ff0000"/>
<rect x="331" y="463" width="1" height="15" fill="#ff0000"/>
<rect x="339" y="463" width="1" height="15" fill="#008000"/>
<rect x="347" y="463" width="1" height="15" fill="#ff0000"/>
<rect x="355" y="463" width="1" height="12" fill="#008000"/>
<rect x="363" y="463" width="1" height="5" fill="#008000"/>
<rect x="371" y="462" width="1" height="2" fill="#008000"/>
<rect x="379" y="456" width="1" height="8" fill="#008000"/>
<rect x="387" y="450" width="1" height="14" fill="#008000"/>
<rect x="395" y="452" width="1" height="12" fill="#ff0000"/>
<rect x="403" y="459" width="1" height="5" fill="#ff0000"/>
<rect x="419" y="461" width="1" height="3" fill="#008000"/>
<rect x="427" y="457" width="1" height="7" fill="#008000"/>
<rect x="435" y="450" width="1" height="14" fill="#008000"/>
<rect x="443" y="445" width="1" height="19" fill="#008000"/>
<rect x="451" y="446" width="1" height="18" fill="#ff0000"/>
<rect x="459" y="450" width="1" height="14" fill="#ff0000"/>
<rect x="467" y="456" width="1" height="8" fill="#ff0000"/>
<rect x="475" y="456" width="1" height="8" fill="#ff0000"/>
<rect x="483" y="444" width="1" height="20" fill="#008000"/>
<rect x="491" y="429" width="1" height="35" fill="#008000"/>
<rect x="499" y="430" width="1" height="34" fill="#ff0000"/>
<rect x="507" y="437" width="1" height="27" fill="#ff0000"/>
<rect x="515" y="445" width="1" height="19" fill="#ff0000"/>
<rect x="523" y="455" width="1" height="9" fill="#ff0000"/>
<rect x="531" y="462" width="1" height="2" fill="#ff0000"/>
<rect x="539" y="459" width="1" height="5" fill="#008000"/>
<rect x="547" y="456" width="1" height="8" fill="#008000"/>
<rect x="555" y="453" width="1" height="11" fill="#008000"/>
<rect x="563" y="452" width="1" height="12" fill="#008000"/>
<rect x="571" y="457" width="1" height="7" fill="#ff0000"/>
<rect x="579" y="462" width="1" height="2" fill="#ff0000"/>
<rect x="595" y="463" width="1" height="6" fill="#ff0000"/>
<rect x="603" y="463" width="1" height="6" fill="#ff0000"/>
<rect x="611" y="463" width="1" height="1" fill="#008000"/>
<rect x="619" y="460" width="1" height="4" fill="#008000"/>
<rect x="627" y="457" width="1" height="7" fill="#008000"/>
<rect x="635" y="459" width="1" height="5" fill="#ff0000"/>
<rect x="643" y="463" width="1" height="1" fill="#ff0000"/>
<rect x="651" y="463" width="1" height="10" fill="#ff0000"/>
<rect x="659" y="463" width="1" height="15" fill="#ff0000"/>
<rect x="667" y="463" width="1" height="11" fill="#008000"/>
<rect x="675" y="463" width="1" height="6" fill="#008000"/>
<rect x="683" y="463" width="1" height="1" fill="#008000"/>
<rect x="691" y="463" width="1" height="1" fill="#008000"/>
<rect x="707" y="463" width="1" height="3" fill="#ff0000"/>
<rect x="715" y="463" width="1" height="9" fill="#ff0000"/>
<rect x="723" y="463" width="1" height="11" fill="#ff0000"/>
<rect x="731" y="463" width="1" height="11" fill="#008000"/>
<rect x="739" y="463" width="1" height="9" fill="#008000"/>
<rect x="747" y="463" width="1" height="6" fill="#008000"/>
<rect x="755" y="463" width="1" height="5" fill="#008000"/>
<rect x="763" y="463" width="1" height="9" fill="#ff0000"/>
<rect x="771" y="463" width="1" height="13" fill="#ff0000"/>
</g>
<g shape-rendering="crispEdges" fill="#000">
<rect x="2" y="2" width="986" height="1"/>
<rect x="2" y="333" width="986" height="1"/>
<rect x="2" y="2" width="1" height="332"/>
<rect x="2" y="335" width="986" height="1"/>
<rect x="2" y="421" width="986" height="1"/>
<rect x="2" y="335" width="1" height="87"/>
<rect x="2" y="423" width="986" height="1"/>
<rect x="2" y="503" width="986" height="1"/>
<rect x="2" y="423" width="1" height="81"/>
<rect x="987" y="2" width="1" height="332"/>
<rect x="987" y="335" width="1" height="87"/>
<rect x="987" y="423" width="1" height="81"/>
<rect x="988" y="33" width="2" height="1"/>
<rect x="988" y="66" width="2" height="1"/>
<rect x="988" y="99" width="2" height="1"/>
<rect x="988" y="132" width="2" height="1"/>
<rect x="988" y="165" width="2" height="1"/>
<rect x="988" y="198" width="2" height="1"/>
<rect x="988" y="231" width="2" height="1"/>
<rect x="988" y="264" width="2" height="1"/>
<rect x="988" y="297" width="2" height="1"/>
<rect x="988" y="330" width="2" height="1"/>
<rect x="988" y="381" width="2" height="1"/>
<rect x="988" y="463" width="2" height="1"/>
<rect x="988" y="337" width="1" height="1"/>
<rect x="988" y="420" width="1" height="1"/>
<rect x="988" y="425" width="1" height="1"/>
<rect x="988" y="502" width="1" height="1"/>
<rect x="3" y="504" width="1" height="3"/>
<rect x="67" y="504" width="1" height="3"/>
<rect x="131" y="504" width="1" height="3"/>
<rect x="195" y="504" width="1" height="3"/>
<rect x="259" y="504" width="1" height="3"/>
<rect x="323" y="504" width="1" height="3"/>
<rect x="387" y="504" width="1" height="3"/>
<rect x="451" y="504" width="1" height="3"/>
<rect x="515" y="504" width="1" height="3"/>
<rect x="579" y="504" width="1" height="3"/>
<rect x="643" y="504" width="1" height="3"/>
<rect x="707" y="504" width="1" height="3"/>
<rect x="771" y="504" width="1" height="3"/>
<path d="M6,9 h7 l-3.5,4 z"/>
</g>
<g font-family="Liberation Sans, Arial, sans-serif" font-size="9.8px" fill="#000" stroke="#000" stroke-width="0.18" text-rendering="geometricPrecision">
<text x="993.27" y="37" textLength="32.23" lengthAdjust="spacingAndGlyphs" xml:space="preserve">1.10670</text>
<text x="993.27" y="70" textLength="32.23" lengthAdjust="spacingAndGlyphs" xml:space="preserve">1.10010</text>
<text x="993.27" y="103" textLength="32.23" lengthAdjust="spacingAndGlyphs" xml:space="preserve">1.09350</text>
<text x="993.27" y="136" textLength="32.23" lengthAdjust="spacingAndGlyphs" xml:space="preserve">1.08690</text>
<text x="993.27" y="169" textLength="32.23" lengthAdjust="spacingAndGlyphs" xml:space="preserve">1.08030</text>
<text x="993.27" y="202" textLength="32.23" lengthAdjust="spacingAndGlyphs" xml:space="preserve">1.07370</text>
<text x="993.27" y="235" textLength="32.23" lengthAdjust="spacingAndGlyphs" xml:space="preserve">1.06710</text>
<text x="993.27" y="268" textLength="32.23" lengthAdjust="spacingAndGlyphs" xml:space="preserve">1.06050</text>
<text x="993.27" y="301" textLength="32.23" lengthAdjust="spacingAndGlyphs" xml:space="preserve">1.05390</text>
<text x="993.27" y="334" textLength="32.25" lengthAdjust="spacingAndGlyphs" xml:space="preserve">1.04715</text>
<rect x="989" y="97" width="41" height="11" fill="#000" stroke="none" shape-rendering="crispEdges"/>
<rect x="989" y="15" width="41" height="11" fill="#008000" stroke="none" shape-rendering="crispEdges"/>
<rect x="989" y="256" width="41" height="11" fill="#008000" stroke="none" shape-rendering="crispEdges"/>
<rect x="989" y="289" width="41" height="11" fill="#008000" stroke="none" shape-rendering="crispEdges"/>
<text x="993.27" y="25" fill="#fff" stroke="#fff" textLength="32.23" lengthAdjust="spacingAndGlyphs" xml:space="preserve">1.10910</text>
<text x="993.27" y="106" fill="#fff" stroke="#fff" textLength="32.27" lengthAdjust="spacingAndGlyphs" xml:space="preserve">1.09298</text>
<text x="993.27" y="266" fill="#fff" stroke="#fff" textLength="32.23" lengthAdjust="spacingAndGlyphs" xml:space="preserve">1.06090</text>
<text x="993.27" y="299" fill="#fff" stroke="#fff" textLength="32.23" lengthAdjust="spacingAndGlyphs" xml:space="preserve">1.05430</text>
<text x="991.70" y="346" textLength="37.31" lengthAdjust="spacingAndGlyphs" xml:space="preserve">0.020954</text>
<text x="991.72" y="385" textLength="16.56" lengthAdjust="spacingAndGlyphs" xml:space="preserve">0.00</text>
<text x="991.65" y="418" textLength="40.25" lengthAdjust="spacingAndGlyphs" xml:space="preserve">-0.018762</text>
<text x="991.70" y="434" textLength="42.37" lengthAdjust="spacingAndGlyphs" xml:space="preserve">0.0083669</text>
<text x="991.72" y="467" textLength="16.56" lengthAdjust="spacingAndGlyphs" xml:space="preserve">0.00</text>
<text x="991.65" y="500" textLength="45.23" lengthAdjust="spacingAndGlyphs" xml:space="preserve">-0.0086121</text>
<text x="18.29" y="14" textLength="62.68" lengthAdjust="spacingAndGlyphs" xml:space="preserve">EURUSD,Daily</text>
<text x="88.57" y="14" textLength="32.43" lengthAdjust="spacingAndGlyphs" xml:space="preserve">1.09812</text>
<text x="124.57" y="14" textLength="32.33" lengthAdjust="spacingAndGlyphs" xml:space="preserve">1.09980</text>
<text x="160.57" y="14" textLength="32.24" lengthAdjust="spacingAndGlyphs" xml:space="preserve">1.09244</text>
<text x="196.57" y="14" textLength="32.37" lengthAdjust="spacingAndGlyphs" xml:space="preserve">1.09298</text>
<text x="8.23" y="348" textLength="13.26" lengthAdjust="spacingAndGlyphs" xml:space="preserve">AO</text>
<text x="24.89" y="348" textLength="38.26" lengthAdjust="spacingAndGlyphs" xml:space="preserve">0.003676</text>
<text x="8.23" y="436" textLength="12.67" lengthAdjust="spacingAndGlyphs" xml:space="preserve">AC</text>
<text x="24.55" y="436" textLength="45.60" lengthAdjust="spacingAndGlyphs" xml:space="preserve">-0.0029283</text>
<text x="2.09" y="516" textLength="51.51" lengthAdjust="spacingAndGlyphs" xml:space="preserve">28 Dec 2022</text>
<text x="65.93" y="516" textLength="44.82" lengthAdjust="spacingAndGlyphs" xml:space="preserve">9 Jan 2023</text>
<text x="129.86" y="516" textLength="49.99" lengthAdjust="spacingAndGlyphs" xml:space="preserve">19 Jan 2023</text>
<text x="194.31" y="516" textLength="49.34" lengthAdjust="spacingAndGlyphs" xml:space="preserve">31 Jan 2023</text>
<text x="258.45" y="516" textLength="51.30" lengthAdjust="spacingAndGlyphs" xml:space="preserve">10 Feb 2023</text>
<text x="322.09" y="516" textLength="51.87" lengthAdjust="spacingAndGlyphs" xml:space="preserve">22 Feb 2023</text>
<text x="385.88" y="516" textLength="46.88" lengthAdjust="spacingAndGlyphs" xml:space="preserve">6 Mar 2023</text>
<text x="450.46" y="516" textLength="51.09" lengthAdjust="spacingAndGlyphs" xml:space="preserve">16 Mar 2023</text>
<text x="514.49" y="516" textLength="51.16" lengthAdjust="spacingAndGlyphs" xml:space="preserve">28 Mar 2023</text>
<text x="578.78" y="516" textLength="44.87" lengthAdjust="spacingAndGlyphs" xml:space="preserve">7 Apr 2023</text>
<text x="643.06" y="516" textLength="49.70" lengthAdjust="spacingAndGlyphs" xml:space="preserve">19 Apr 2023</text>
<text x="706.54" y="516" textLength="49.03" lengthAdjust="spacingAndGlyphs" xml:space="preserve">1 May 2023</text>
<text x="770.53" y="516" textLength="54.53" lengthAdjust="spacingAndGlyphs" xml:space="preserve">11 May 2023</text>
</g>
</svg>
</body></html>
